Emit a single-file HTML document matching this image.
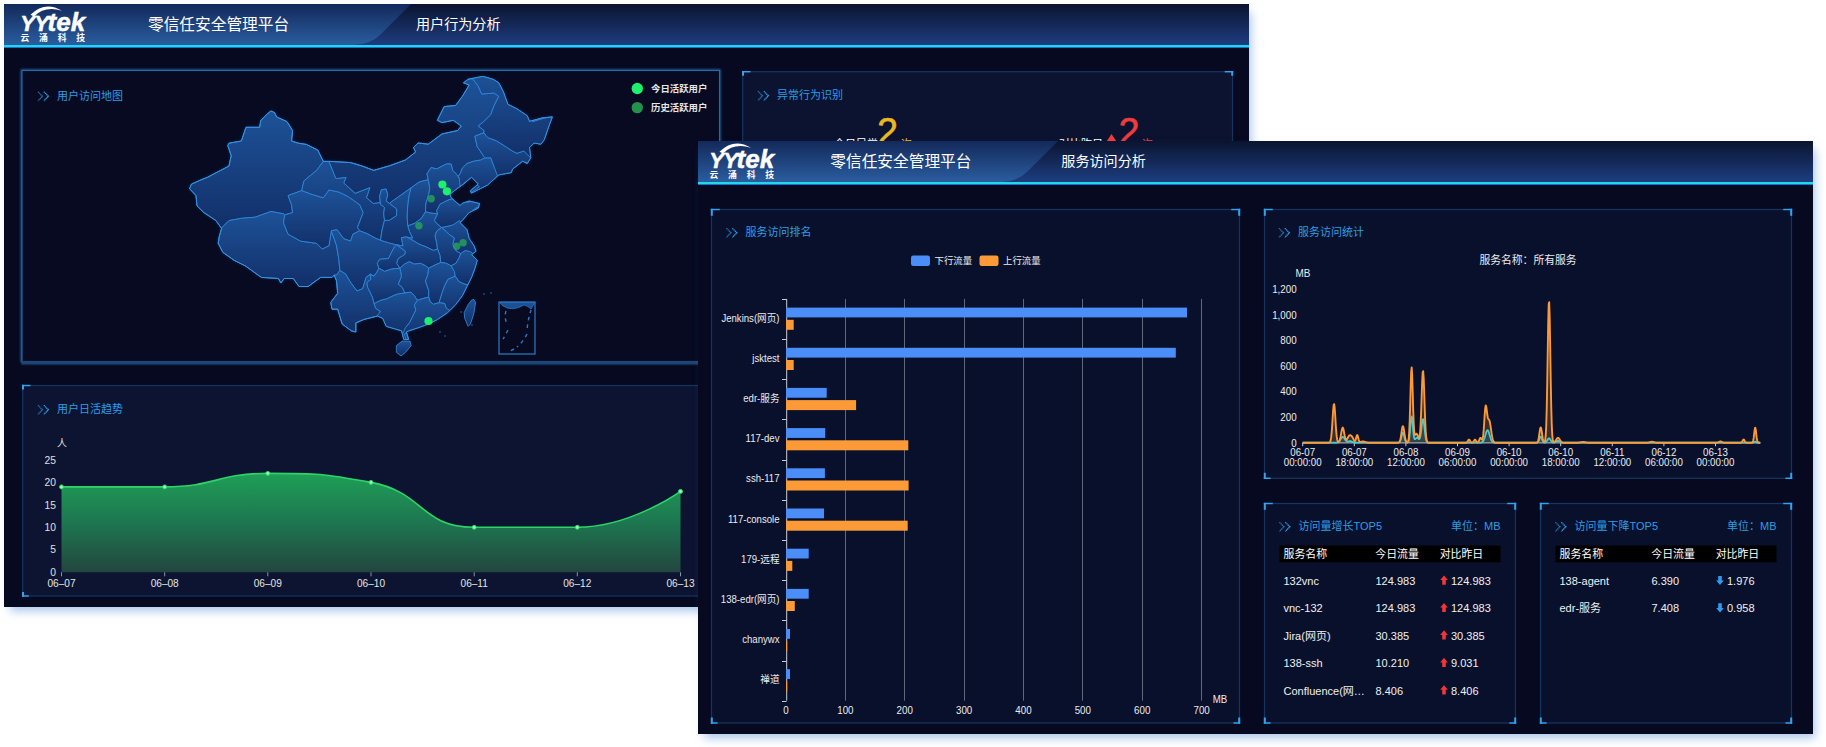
<!DOCTYPE html>
<html lang="zh-CN">
<head>
<meta charset="utf-8">
<title>零信任安全管理平台</title>
<style>
html,body{margin:0;padding:0;background:#fff;}
body{width:1826px;height:747px;overflow:hidden;position:relative;font-family:"Liberation Sans", "Noto Sans CJK SC", sans-serif;}
svg{position:absolute;left:0;top:0;display:block;font-family:"Liberation Sans", "Noto Sans CJK SC", sans-serif;}
.sh{position:absolute;background:#060920;}
#sa{left:4px;top:4px;width:1245px;height:603px;box-shadow:4px 6px 9px -2px rgba(90,145,215,.52);}
#sb{left:698px;top:141px;width:1115px;height:593px;box-shadow:4px 6px 9px -2px rgba(90,145,215,.52);}
</style>
</head>
<body>
<div class="sh" id="sa"></div>
<svg id="ga" width="1826" height="747" viewBox="0 0 1826 747">
<defs><clipPath id="ca"><rect x="4" y="4" width="1245" height="603"/></clipPath></defs>
<g clip-path="url(#ca)">
<rect x="4" y="4" width="1245" height="603" fill="#060920"/>
<defs><linearGradient id="ahg" x1="0" y1="0" x2="0" y2="1"><stop offset="0" stop-color="#0b1430"/><stop offset="1" stop-color="#1d3d80"/></linearGradient><linearGradient id="ahl" x1="0" y1="0" x2="0" y2="1"><stop offset="0" stop-color="#13295a"/><stop offset="1" stop-color="#2a5d9f"/></linearGradient></defs><rect x="4" y="4" width="1245" height="41" fill="url(#ahg)"/><path d="M4 4 H411 L381 34 Q371 44.5 353 45 H4 Z" fill="url(#ahl)"/><rect x="4" y="45" width="1245" height="3" fill="#1fd8ea"/><rect x="4" y="47" width="1245" height="1" fill="#1a6fd0"/><text y="31" font-weight="bold" font-style="italic" fill="#fff" stroke="#fff" stroke-width="0.5"><tspan x="20.3" font-size="22" style="text-transform:uppercase">y</tspan><tspan x="34.2" font-size="22" style="text-transform:uppercase">y</tspan><tspan x="47.6" font-size="26">tek</tspan></text><path d="M30.5 14.8 Q45 0.5 62 10.8 Q45 5.5 34 16.5 Z" fill="#fff"/><text x="20.5" y="41.3" font-size="8.8" font-weight="bold" fill="#fff" textLength="64.5" lengthAdjust="spacing">云 涌 科 技</text><text x="148" y="30" font-size="15.7" fill="#fff">零信任安全管理平台</text><text x="416" y="29" font-size="14.1" fill="#fff">用户行为分析</text>
<defs><filter id="pglow" x="-2%" y="-4%" width="104%" height="108%"><feGaussianBlur stdDeviation="1.3"/></filter></defs><rect x="22" y="70.5" width="697.5" height="291.0" fill="#070a21" stroke="#2a78c0" stroke-width="2.6" opacity="0.75" filter="url(#pglow)"/><rect x="22" y="70.5" width="697.5" height="291.0" fill="#070a21" stroke="#276aa8" stroke-width="1.1"/>
<defs><linearGradient id="mpb" x1="0" y1="0" x2="0" y2="1"><stop offset="0" stop-color="#1f4b7e"/><stop offset="0.55" stop-color="#1c426f"/><stop offset="1" stop-color="#0a1230"/></linearGradient></defs><rect x="21.5" y="361" width="698.5" height="4.6" fill="url(#mpb)"/>
<path d="M37.9 91.7 L42.5 96.3 L37.9 100.9" fill="none" stroke="#2f9be0" stroke-width="1.35" stroke-dasharray="1.3 0.5" opacity="0.7"/><path d="M43.8 91.7 L48.4 96.3 L43.8 100.9" fill="none" stroke="#2f9be0" stroke-width="1.35" stroke-dasharray="1.3 0.5" opacity="1"/><text x="57" y="99.5" font-size="11" fill="#2c9ee6">用户访问地图</text>
<defs><linearGradient id="mg" x1="0" y1="0" x2="0" y2="1"><stop offset="0" stop-color="#1d5298"/><stop offset="1" stop-color="#122f68"/></linearGradient><filter id="mglow" x="-5%" y="-5%" width="110%" height="110%"><feGaussianBlur stdDeviation="1.6"/></filter><clipPath id="mclip"><polygon points="271.0,111.0 274.4,112.5 276.7,117.0 287.0,121.6 292.6,130.7 291.5,141.0 298.3,143.2 306.3,144.4 317.7,150.0 323.3,161.4 330.2,161.4 350.6,162.6 362.0,166.0 373.7,170.4 389.6,165.8 405.5,160.0 415.7,152.0 413.5,147.6 418.0,143.0 428.3,144.2 442.0,134.0 457.8,130.5 461.3,126.0 453.3,120.3 442.0,122.6 437.4,120.3 444.2,106.6 455.6,105.5 462.4,96.4 469.2,85.0 463.5,82.8 468.0,79.3 482.9,76.4 493.1,79.3 498.8,82.8 503.4,91.9 507.9,104.4 517.0,108.9 527.2,115.7 529.5,121.4 542.0,118.0 552.3,116.9 548.9,126.0 544.3,139.6 540.9,144.2 534.1,143.0 529.5,147.6 530.7,157.8 527.2,163.5 522.7,161.2 512.4,169.2 511.3,172.6 498.8,174.9 487.4,185.1 480.6,188.5 471.5,193.1 470.4,190.8 478.3,184.0 471.5,177.2 463.5,184.0 455.6,189.7 449.9,194.2 451.0,197.7 460.1,205.6 462.4,203.3 469.2,201.1 478.3,203.3 479.5,203.4 478.3,208.0 469.2,212.5 460.1,222.8 466.9,229.6 469.2,238.7 473.8,245.5 476.0,251.2 471.5,254.6 477.2,260.3 474.9,268.3 471.5,277.4 466.9,286.5 462.4,295.6 455.6,304.7 447.6,312.6 437.4,319.5 428.3,324.0 419.2,327.4 408.9,330.8 406.3,332.0 408.6,339.4 403.8,339.4 401.6,330.8 394.1,328.6 386.2,326.3 382.8,318.3 377.5,316.0 363.8,319.5 355.8,322.9 355.8,332.0 351.3,330.8 342.2,324.0 337.7,309.2 332.0,309.2 330.8,302.4 337.7,293.3 336.5,280.8 334.2,275.1 332.0,277.4 320.6,277.4 308.1,286.5 299.0,286.5 293.3,278.5 284.2,278.5 280.8,283.0 278.5,278.5 261.4,277.4 245.5,266.0 234.1,260.3 222.8,252.3 218.2,243.2 219.3,236.4 221.6,228.4 215.9,220.5 203.9,212.6 197.0,205.8 196.0,195.6 189.6,188.7 191.4,184.2 201.6,179.6 207.3,177.4 229.0,166.0 231.2,155.7 227.8,145.5 229.0,143.2 241.4,141.0 246.0,127.3 259.6,127.3 260.8,120.5 267.6,113.6"/></clipPath></defs><polygon points="271.0,111.0 274.4,112.5 276.7,117.0 287.0,121.6 292.6,130.7 291.5,141.0 298.3,143.2 306.3,144.4 317.7,150.0 323.3,161.4 330.2,161.4 350.6,162.6 362.0,166.0 373.7,170.4 389.6,165.8 405.5,160.0 415.7,152.0 413.5,147.6 418.0,143.0 428.3,144.2 442.0,134.0 457.8,130.5 461.3,126.0 453.3,120.3 442.0,122.6 437.4,120.3 444.2,106.6 455.6,105.5 462.4,96.4 469.2,85.0 463.5,82.8 468.0,79.3 482.9,76.4 493.1,79.3 498.8,82.8 503.4,91.9 507.9,104.4 517.0,108.9 527.2,115.7 529.5,121.4 542.0,118.0 552.3,116.9 548.9,126.0 544.3,139.6 540.9,144.2 534.1,143.0 529.5,147.6 530.7,157.8 527.2,163.5 522.7,161.2 512.4,169.2 511.3,172.6 498.8,174.9 487.4,185.1 480.6,188.5 471.5,193.1 470.4,190.8 478.3,184.0 471.5,177.2 463.5,184.0 455.6,189.7 449.9,194.2 451.0,197.7 460.1,205.6 462.4,203.3 469.2,201.1 478.3,203.3 479.5,203.4 478.3,208.0 469.2,212.5 460.1,222.8 466.9,229.6 469.2,238.7 473.8,245.5 476.0,251.2 471.5,254.6 477.2,260.3 474.9,268.3 471.5,277.4 466.9,286.5 462.4,295.6 455.6,304.7 447.6,312.6 437.4,319.5 428.3,324.0 419.2,327.4 408.9,330.8 406.3,332.0 408.6,339.4 403.8,339.4 401.6,330.8 394.1,328.6 386.2,326.3 382.8,318.3 377.5,316.0 363.8,319.5 355.8,322.9 355.8,332.0 351.3,330.8 342.2,324.0 337.7,309.2 332.0,309.2 330.8,302.4 337.7,293.3 336.5,280.8 334.2,275.1 332.0,277.4 320.6,277.4 308.1,286.5 299.0,286.5 293.3,278.5 284.2,278.5 280.8,283.0 278.5,278.5 261.4,277.4 245.5,266.0 234.1,260.3 222.8,252.3 218.2,243.2 219.3,236.4 221.6,228.4 215.9,220.5 203.9,212.6 197.0,205.8 196.0,195.6 189.6,188.7 191.4,184.2 201.6,179.6 207.3,177.4 229.0,166.0 231.2,155.7 227.8,145.5 229.0,143.2 241.4,141.0 246.0,127.3 259.6,127.3 260.8,120.5 267.6,113.6" fill="#1b4a8c" stroke="#2a7acc" stroke-width="1.2" opacity="0.3" filter="url(#mglow)"/><polygon points="271.0,111.0 274.4,112.5 276.7,117.0 287.0,121.6 292.6,130.7 291.5,141.0 298.3,143.2 306.3,144.4 317.7,150.0 323.3,161.4 330.2,161.4 350.6,162.6 362.0,166.0 373.7,170.4 389.6,165.8 405.5,160.0 415.7,152.0 413.5,147.6 418.0,143.0 428.3,144.2 442.0,134.0 457.8,130.5 461.3,126.0 453.3,120.3 442.0,122.6 437.4,120.3 444.2,106.6 455.6,105.5 462.4,96.4 469.2,85.0 463.5,82.8 468.0,79.3 482.9,76.4 493.1,79.3 498.8,82.8 503.4,91.9 507.9,104.4 517.0,108.9 527.2,115.7 529.5,121.4 542.0,118.0 552.3,116.9 548.9,126.0 544.3,139.6 540.9,144.2 534.1,143.0 529.5,147.6 530.7,157.8 527.2,163.5 522.7,161.2 512.4,169.2 511.3,172.6 498.8,174.9 487.4,185.1 480.6,188.5 471.5,193.1 470.4,190.8 478.3,184.0 471.5,177.2 463.5,184.0 455.6,189.7 449.9,194.2 451.0,197.7 460.1,205.6 462.4,203.3 469.2,201.1 478.3,203.3 479.5,203.4 478.3,208.0 469.2,212.5 460.1,222.8 466.9,229.6 469.2,238.7 473.8,245.5 476.0,251.2 471.5,254.6 477.2,260.3 474.9,268.3 471.5,277.4 466.9,286.5 462.4,295.6 455.6,304.7 447.6,312.6 437.4,319.5 428.3,324.0 419.2,327.4 408.9,330.8 406.3,332.0 408.6,339.4 403.8,339.4 401.6,330.8 394.1,328.6 386.2,326.3 382.8,318.3 377.5,316.0 363.8,319.5 355.8,322.9 355.8,332.0 351.3,330.8 342.2,324.0 337.7,309.2 332.0,309.2 330.8,302.4 337.7,293.3 336.5,280.8 334.2,275.1 332.0,277.4 320.6,277.4 308.1,286.5 299.0,286.5 293.3,278.5 284.2,278.5 280.8,283.0 278.5,278.5 261.4,277.4 245.5,266.0 234.1,260.3 222.8,252.3 218.2,243.2 219.3,236.4 221.6,228.4 215.9,220.5 203.9,212.6 197.0,205.8 196.0,195.6 189.6,188.7 191.4,184.2 201.6,179.6 207.3,177.4 229.0,166.0 231.2,155.7 227.8,145.5 229.0,143.2 241.4,141.0 246.0,127.3 259.6,127.3 260.8,120.5 267.6,113.6" fill="#194584" stroke="#2f88d8" stroke-width="1" stroke-linejoin="round"/><polygon points="396.4,345.6 402.1,341.1 410.0,341.1 411.2,345.6 405.5,352.4 401.0,355.9 396.4,352.4" fill="url(#mg)" stroke="#2f88d8" stroke-width="0.85" stroke-linejoin="round"/><polygon points="473.8,299.4 475.6,302.4 473.8,313.8 470.4,324.0 468.1,326.3 464.7,318.3 464.2,312.6 468.1,304.7 471.5,300.1" fill="url(#mg)" stroke="#2f88d8" stroke-width="0.85" stroke-linejoin="round"/><g clip-path="url(#mclip)"><polygon points="221.6,228.4 215.9,220.5 203.9,212.6 197.0,205.8 196.0,195.6 189.6,188.7 191.4,184.2 201.6,179.6 207.3,177.4 229.0,166.0 231.2,155.7 227.8,145.5 229.0,143.2 241.4,141.0 246.0,127.3 259.6,127.3 260.8,120.5 267.6,113.6 271.0,111.0 274.4,112.5 276.7,117.0 287.0,121.6 292.6,130.7 291.5,141.0 298.3,143.2 306.3,144.4 317.7,150.0 323.3,161.4 323.3,161.4 316.5,170.5 304.0,180.8 301.7,190.6 301.7,190.6 288.1,195.6 291.5,204.7 292.6,212.6 284.7,214.9 284.7,214.9 283.5,213.8 271.0,211.5 255.1,217.2 241.4,218.3 228.9,220.6 221.0,228.6" fill="url(#mg)" stroke="#2f88d8" stroke-width="0.9" stroke-linejoin="round"/><polygon points="221.0,228.6 228.9,220.6 241.4,218.3 255.1,217.2 271.0,211.5 283.5,213.8 284.7,214.9 284.7,214.9 283.5,222.9 288.1,234.2 300.6,241.1 316.5,243.3 322.2,249.0 329.0,245.6 331.3,230.8 331.3,230.8 336.5,245.5 338.8,259.2 339.9,270.5 336.5,275.1 334.2,275.1 332.0,277.4 320.6,277.4 308.1,286.5 299.0,286.5 293.3,278.5 284.2,278.5 280.8,283.0 278.5,278.5 261.4,277.4 245.5,266.0 234.1,260.3 222.8,252.3 218.2,243.2 219.3,236.4 221.6,228.4" fill="url(#mg)" stroke="#2f88d8" stroke-width="0.9" stroke-linejoin="round"/><polygon points="284.7,214.9 292.6,212.6 291.5,204.7 288.1,195.6 301.7,190.6 301.7,190.6 312.0,194.4 323.3,197.8 329.0,189.9 339.3,192.2 348.4,196.7 359.7,204.7 363.2,212.6 357.5,227.4 359.7,230.8 359.7,230.8 352.9,234.2 350.6,241.1 343.8,238.8 337.0,229.7 331.3,230.8 329.0,245.6 322.2,249.0 316.5,243.3 300.6,241.1 288.1,234.2 283.5,222.9 284.7,214.9" fill="url(#mg)" stroke="#2f88d8" stroke-width="0.9" stroke-linejoin="round"/><polygon points="301.7,190.6 304.0,180.8 316.5,170.5 323.3,161.4 329.0,161.4 335.9,178.5 346.1,177.4 343.8,183.0 355.2,193.3 370.0,187.6 366.6,197.8 373.4,203.5 380.0,202.4 380.5,204.2 384.5,207.4 383.7,213.8 384.5,220.3 382.1,229.9 380.5,240.3 375.0,238.0 368.0,234.0 359.7,230.8 359.7,230.8 357.5,227.4 363.2,212.6 359.7,204.7 348.4,196.7 339.3,192.2 329.0,189.9 323.3,197.8 312.0,194.4 301.7,190.6" fill="url(#mg)" stroke="#2f88d8" stroke-width="0.9" stroke-linejoin="round"/><polygon points="323.3,161.4 330.2,161.4 350.6,162.6 362.0,166.0 373.7,170.4 389.6,165.8 405.5,160.0 415.7,152.0 413.5,147.6 418.0,143.0 428.3,144.2 442.0,134.0 457.8,130.5 461.3,126.0 453.3,120.3 442.0,122.6 437.4,120.3 444.2,106.6 455.6,105.5 462.4,96.4 469.2,85.0 463.5,82.8 468.0,79.3 472.6,78.6 478.3,86.2 481.7,94.1 494.2,93.0 498.8,96.4 494.2,105.5 490.8,114.6 484.0,121.4 478.3,126.0 484.0,130.5 484.0,132.8 474.9,136.2 477.2,146.5 484.0,156.7 485.1,157.8 480.6,160.1 473.8,161.2 467.0,163.5 462.4,168.1 460.1,173.8 457.8,177.2 456.8,174.5 452.7,170.5 451.1,164.0 446.3,164.0 436.7,168.9 431.0,167.6 427.0,173.7 428.2,179.7 419.0,182.1 411.0,187.9 398.2,197.0 389.3,203.4 386.1,201.0 387.7,194.6 386.1,189.0 381.3,189.8 379.7,196.2 380.5,204.2 380.0,202.4 373.4,203.5 366.6,197.8 370.0,187.6 355.2,193.3 343.8,183.0 346.1,177.4 335.9,178.5 329.0,161.4 323.3,161.4" fill="url(#mg)" stroke="#2f88d8" stroke-width="0.9" stroke-linejoin="round"/><polygon points="331.3,230.8 337.0,229.7 343.8,238.8 350.6,241.1 352.9,234.2 359.7,230.8 368.0,234.0 375.0,238.0 380.5,240.3 388.5,242.7 395.0,244.4 396.6,244.9 394.1,247.3 391.7,252.1 388.5,258.5 379.7,259.3 377.3,263.3 378.9,268.2 377.3,271.4 374.1,276.2 370.6,274.0 370.6,274.0 366.1,277.4 362.7,288.7 357.0,291.0 350.2,281.9 345.6,274.0 339.9,270.5 339.9,270.5 338.8,259.2 336.5,245.5 331.3,230.8" fill="url(#mg)" stroke="#2f88d8" stroke-width="0.9" stroke-linejoin="round"/><polygon points="339.9,270.5 345.6,274.0 350.2,281.9 357.0,291.0 362.7,288.7 366.1,277.4 370.6,274.0 370.1,274.6 370.9,279.4 366.9,282.6 367.7,287.4 372.5,297.1 374.1,303.5 375.7,308.3 380.5,311.5 378.9,316.3 377.5,316.0 363.8,319.5 355.8,322.9 355.8,332.0 351.3,330.8 342.2,324.0 337.7,309.2 332.0,309.2 330.8,302.4 337.7,293.3 336.5,280.8 334.2,275.1 336.5,275.1" fill="url(#mg)" stroke="#2f88d8" stroke-width="0.9" stroke-linejoin="round"/><polygon points="411.0,187.9 419.0,182.1 428.2,179.7 429.8,188.2 428.7,194.6 425.8,204.2 425.5,211.8 421.4,218.3 415.0,223.2 407.8,226.0 407.0,217.0 407.8,204.2 409.1,194.6" fill="url(#mg)" stroke="#2f88d8" stroke-width="0.9" stroke-linejoin="round"/><polygon points="428.2,179.7 427.0,173.7 431.0,167.6 436.7,168.9 446.3,164.0 451.1,164.0 452.7,170.5 456.8,174.5 459.2,177.7 465.3,183.3 457.4,190.0 452.9,195.4 455.2,197.9 456.0,197.8 448.0,200.2 440.0,204.2 436.7,210.6 437.5,213.8 430.3,213.0 425.5,211.8 425.8,204.2 428.7,194.6 429.8,188.2" fill="url(#mg)" stroke="#2f88d8" stroke-width="0.9" stroke-linejoin="round"/><polygon points="456.0,197.8 462.2,199.2 468.0,202.4 474.5,199.3 481.2,203.2 480.5,205.9 474.9,208.4 470.2,214.2 464.4,222.5 460.3,226.3 452.7,225.1 446.3,226.7 441.5,227.5 436.7,223.5 434.3,220.3 437.5,213.8 436.7,210.6 440.0,204.2 448.0,200.2" fill="url(#mg)" stroke="#2f88d8" stroke-width="0.9" stroke-linejoin="round"/><polygon points="407.8,226.0 415.0,223.2 421.4,218.3 425.5,211.8 430.3,213.0 437.5,213.8 434.3,220.3 436.7,223.5 441.5,227.5 436.7,231.2 435.1,236.0 436.7,242.5 437.5,248.9 433.5,250.5 427.1,247.3 419.0,244.1 411.0,239.3 412.6,237.9 409.4,231.5" fill="url(#mg)" stroke="#2f88d8" stroke-width="0.9" stroke-linejoin="round"/><polygon points="441.5,227.5 446.3,226.7 452.7,225.1 459.4,220.5 463.3,223.9 469.9,233.4 473.3,243.6 476.1,250.9 472.4,254.6 465.6,250.5 462.4,252.4 460.8,253.7 456.0,250.8 452.7,244.4 454.4,238.0 449.5,234.8 446.3,231.6" fill="url(#mg)" stroke="#2f88d8" stroke-width="0.9" stroke-linejoin="round"/><polygon points="441.5,227.5 446.3,231.6 449.5,234.8 454.4,238.0 452.7,244.4 456.0,250.8 460.8,253.7 459.2,257.7 456.0,263.3 451.1,265.8 446.3,263.3 440.7,262.5 439.9,255.3 437.5,248.9 436.7,242.5 435.1,236.0 436.7,231.2" fill="url(#mg)" stroke="#2f88d8" stroke-width="0.9" stroke-linejoin="round"/><polygon points="411.0,187.9 409.1,194.6 407.8,204.2 407.0,217.0 407.8,226.0 409.4,231.5 412.6,237.9 406.2,236.9 401.4,237.7 403.0,246.0 395.0,244.4 388.5,242.7 380.5,240.3 382.1,229.9 384.5,220.3 389.3,220.3 396.6,215.5 396.6,209.0 389.3,203.4 398.2,197.0" fill="url(#mg)" stroke="#2f88d8" stroke-width="0.9" stroke-linejoin="round"/><polygon points="381.3,189.8 386.1,189.0 387.7,194.6 386.1,201.0 389.3,203.4 396.6,209.0 396.6,215.5 389.3,220.3 384.5,220.3 383.7,213.8 384.5,207.4 380.5,204.2 379.7,196.2" fill="url(#mg)" stroke="#2f88d8" stroke-width="0.9" stroke-linejoin="round"/><polygon points="401.4,237.7 406.2,236.9 411.0,239.3 419.0,244.1 427.1,247.3 433.5,250.5 437.5,248.9 439.9,255.3 440.7,262.5 435.1,265.0 428.7,268.2 425.5,265.8 420.6,263.3 414.2,264.1 409.4,261.7 404.6,264.1 399.8,268.2 396.6,263.3 398.2,258.5 404.6,254.5 405.4,251.3 396.6,244.9 403.0,246.0" fill="url(#mg)" stroke="#2f88d8" stroke-width="0.9" stroke-linejoin="round"/><polygon points="399.8,268.2 404.6,264.1 409.4,261.7 414.2,264.1 420.6,263.3 425.5,265.8 428.7,268.2 427.9,274.6 425.5,281.0 428.7,290.6 428.7,297.1 422.2,298.7 417.4,300.3 414.2,295.5 411.0,292.2 404.6,293.0 402.2,287.4 398.2,284.2 401.4,276.2 400.6,271.4" fill="url(#mg)" stroke="#2f88d8" stroke-width="0.9" stroke-linejoin="round"/><polygon points="428.7,268.2 435.1,265.0 440.7,262.5 446.3,263.3 451.1,265.8 454.4,271.4 455.2,276.2 447.9,279.4 444.7,285.8 442.3,292.2 439.1,302.7 433.5,304.3 430.3,301.9 428.7,297.1 428.7,290.6 425.5,281.0 427.9,274.6" fill="url(#mg)" stroke="#2f88d8" stroke-width="0.9" stroke-linejoin="round"/><polygon points="460.8,253.7 462.4,252.4 465.6,250.5 470.9,251.8 476.9,257.7 479.7,262.6 476.5,268.8 474.1,276.8 467.8,284.7 464.8,284.2 459.2,281.8 455.2,276.2 454.4,271.4 451.1,265.8 456.0,263.3 459.2,257.7" fill="url(#mg)" stroke="#2f88d8" stroke-width="0.9" stroke-linejoin="round"/><polygon points="455.2,276.2 459.2,281.8 464.8,284.2 469.6,285.3 465.3,296.3 456.5,307.6 447.2,314.4 446.3,308.3 444.7,303.5 439.1,302.7 442.3,292.2 444.7,285.8 447.9,279.4" fill="url(#mg)" stroke="#2f88d8" stroke-width="0.9" stroke-linejoin="round"/><polygon points="417.4,300.3 422.2,298.7 428.7,297.1 430.3,301.9 433.5,304.3 439.1,302.7 444.7,303.5 446.3,308.3 450.9,311.0 450.6,312.2 440.3,320.2 429.9,326.5 418.3,330.2 406.8,333.0 404.1,334.1 407.0,342.0 401.9,341.7 399.1,332.5 405.4,327.6 409.4,322.8 412.6,316.3 415.8,309.9 414.2,305.1" fill="url(#mg)" stroke="#2f88d8" stroke-width="0.9" stroke-linejoin="round"/><polygon points="374.1,303.5 380.5,300.3 386.9,298.7 393.3,295.5 398.2,293.8 404.6,293.0 411.0,292.2 414.2,295.5 417.4,300.3 414.2,305.1 415.8,309.9 412.6,316.3 409.4,322.8 405.4,327.6 402.8,333.7 393.6,331.6 384.6,328.8 380.3,319.9 376.1,317.4 380.5,311.5 375.7,308.3" fill="url(#mg)" stroke="#2f88d8" stroke-width="0.9" stroke-linejoin="round"/><polygon points="396.6,244.9 405.4,251.3 404.6,254.5 398.2,258.5 396.6,263.3 399.8,268.2 391.7,269.0 384.5,271.4 378.9,268.2 377.3,263.3 379.7,259.3 388.5,258.5 391.7,252.1 394.1,247.3" fill="url(#mg)" stroke="#2f88d8" stroke-width="0.9" stroke-linejoin="round"/><polygon points="378.9,268.2 384.5,271.4 391.7,269.0 399.8,268.2 400.6,271.4 401.4,276.2 398.2,284.2 402.2,287.4 404.6,293.0 398.2,293.8 393.3,295.5 386.9,298.7 380.5,300.3 374.1,303.5 372.5,297.1 367.7,287.4 366.9,282.6 370.9,279.4 370.1,274.6 374.1,276.2 377.3,271.4" fill="url(#mg)" stroke="#2f88d8" stroke-width="0.9" stroke-linejoin="round"/><polygon points="460.0,185.8 461.2,185.9 469.1,179.0 479.5,186.8 469.6,193.7 471.0,196.1 481.8,191.2 489.8,186.9 501.8,174.9 494.2,167.0 490.8,157.8 485.1,157.8 480.6,160.1 473.8,161.2 467.0,163.5 462.4,168.1 460.1,173.8 457.8,177.2 459.2,177.7" fill="url(#mg)" stroke="#2f88d8" stroke-width="0.9" stroke-linejoin="round"/><polygon points="474.9,136.2 484.0,132.8 487.4,137.4 496.5,140.8 505.6,146.5 512.4,151.0 517.0,153.3 523.8,151.0 532.5,155.7 533.7,158.2 530.0,164.6 525.5,162.2 514.0,171.7 512.5,175.3 498.2,177.8 494.2,167.0 490.8,157.8 485.1,157.8 484.0,156.7 477.2,146.5" fill="url(#mg)" stroke="#2f88d8" stroke-width="0.9" stroke-linejoin="round"/><polygon points="470.6,76.3 481.4,73.8 492.0,76.5 498.1,79.9 502.9,88.9 507.9,101.4 519.0,106.6 530.2,115.2 532.5,121.7 545.0,117.9 555.3,116.8 551.9,126.5 546.9,141.1 543.3,146.0 536.3,145.0 531.3,150.0 531.0,158.2 523.8,151.0 517.0,153.3 512.4,151.0 505.6,146.5 496.5,140.8 487.4,137.4 484.0,132.8 484.0,130.5 478.3,126.0 484.0,121.4 490.8,114.6 494.2,105.5 498.8,96.4 494.2,93.0 481.7,94.1 478.3,86.2" fill="url(#mg)" stroke="#2f88d8" stroke-width="0.9" stroke-linejoin="round"/></g><polygon points="271.0,111.0 274.4,112.5 276.7,117.0 287.0,121.6 292.6,130.7 291.5,141.0 298.3,143.2 306.3,144.4 317.7,150.0 323.3,161.4 330.2,161.4 350.6,162.6 362.0,166.0 373.7,170.4 389.6,165.8 405.5,160.0 415.7,152.0 413.5,147.6 418.0,143.0 428.3,144.2 442.0,134.0 457.8,130.5 461.3,126.0 453.3,120.3 442.0,122.6 437.4,120.3 444.2,106.6 455.6,105.5 462.4,96.4 469.2,85.0 463.5,82.8 468.0,79.3 482.9,76.4 493.1,79.3 498.8,82.8 503.4,91.9 507.9,104.4 517.0,108.9 527.2,115.7 529.5,121.4 542.0,118.0 552.3,116.9 548.9,126.0 544.3,139.6 540.9,144.2 534.1,143.0 529.5,147.6 530.7,157.8 527.2,163.5 522.7,161.2 512.4,169.2 511.3,172.6 498.8,174.9 487.4,185.1 480.6,188.5 471.5,193.1 470.4,190.8 478.3,184.0 471.5,177.2 463.5,184.0 455.6,189.7 449.9,194.2 451.0,197.7 460.1,205.6 462.4,203.3 469.2,201.1 478.3,203.3 479.5,203.4 478.3,208.0 469.2,212.5 460.1,222.8 466.9,229.6 469.2,238.7 473.8,245.5 476.0,251.2 471.5,254.6 477.2,260.3 474.9,268.3 471.5,277.4 466.9,286.5 462.4,295.6 455.6,304.7 447.6,312.6 437.4,319.5 428.3,324.0 419.2,327.4 408.9,330.8 406.3,332.0 408.6,339.4 403.8,339.4 401.6,330.8 394.1,328.6 386.2,326.3 382.8,318.3 377.5,316.0 363.8,319.5 355.8,322.9 355.8,332.0 351.3,330.8 342.2,324.0 337.7,309.2 332.0,309.2 330.8,302.4 337.7,293.3 336.5,280.8 334.2,275.1 332.0,277.4 320.6,277.4 308.1,286.5 299.0,286.5 293.3,278.5 284.2,278.5 280.8,283.0 278.5,278.5 261.4,277.4 245.5,266.0 234.1,260.3 222.8,252.3 218.2,243.2 219.3,236.4 221.6,228.4 215.9,220.5 203.9,212.6 197.0,205.8 196.0,195.6 189.6,188.7 191.4,184.2 201.6,179.6 207.3,177.4 229.0,166.0 231.2,155.7 227.8,145.5 229.0,143.2 241.4,141.0 246.0,127.3 259.6,127.3 260.8,120.5 267.6,113.6" fill="none" stroke="#3692e2" stroke-width="1" stroke-linejoin="round"/><rect x="499" y="302" width="36" height="52" fill="#070a21" stroke="#2b7cc8" stroke-width="1.2"/><path d="M499.5 302.5 H535 L531 309 Q528 306 524 305 Q512 312 503 306 Z" fill="#1d4f95" stroke="#2f86d6" stroke-width="0.6"/><path d="M506 311 q-2 6 1 13 M508 330 q-3 6 -5 9 M531 310 q-3 9 -4 20 M527 334 q-4 8 -10 13 M514 349 l-4 2" fill="none" stroke="#2a78c6" stroke-width="1.4" stroke-dasharray="3.5 4"/><circle cx="484" cy="294" r="0.7" fill="#2f86d6"/><circle cx="491" cy="293" r="0.7" fill="#2f86d6"/><circle cx="461" cy="312" r="0.7" fill="#2f86d6"/><circle cx="440" cy="332" r="0.7" fill="#2f86d6"/><circle cx="445" cy="336" r="0.7" fill="#2f86d6"/><circle cx="472" cy="325" r="0.7" fill="#2f86d6"/><circle cx="431.2" cy="198.8" r="3.7" fill="#27a45a" fill-opacity="0.8"/><circle cx="418.9" cy="225.7" r="3.7" fill="#27a45a" fill-opacity="0.8"/><circle cx="456.7" cy="246.2" r="3.7" fill="#27a45a" fill-opacity="0.8"/><circle cx="463.1" cy="242.8" r="3.7" fill="#27a45a" fill-opacity="0.8"/><circle cx="442.4" cy="184.5" r="4.1" fill="#1df06c"/><circle cx="446.9" cy="191.3" r="4.1" fill="#1df06c"/><circle cx="428.5" cy="321" r="4.1" fill="#1df06c"/>
<circle cx="637.3" cy="88.5" r="5.7" fill="#1df06c"/><circle cx="637.3" cy="107.6" r="5.7" fill="#23914c"/>
<text x="651" y="92" font-size="9.4" font-weight="bold" fill="#e6e6e6">今日活跃用户</text>
<text x="651" y="111" font-size="9.4" font-weight="bold" fill="#e6e6e6">历史活跃用户</text>
<rect x="22.7" y="385.5" width="737.3" height="210.5" fill="#0c1431" stroke="#17345f" stroke-width="1.25"/><rect x="22.0" y="384.8" width="8.5" height="1.4" fill="#31a4ee"/><rect x="22.0" y="384.8" width="2" height="4.7" fill="#31a4ee"/><rect x="22.0" y="595.3" width="6.8" height="1.4" fill="#31a4ee"/><rect x="22.0" y="592.0" width="2" height="4.7" fill="#31a4ee"/>
<path d="M37.9 405.2 L42.5 409.8 L37.9 414.4" fill="none" stroke="#2f9be0" stroke-width="1.35" stroke-dasharray="1.3 0.5" opacity="0.7"/><path d="M43.8 405.2 L48.4 409.8 L43.8 414.4" fill="none" stroke="#2f9be0" stroke-width="1.35" stroke-dasharray="1.3 0.5" opacity="1"/><text x="57" y="413" font-size="11" fill="#2c9ee6">用户日活趋势</text>
<defs><linearGradient id="tg" x1="0" y1="0" x2="0" y2="1"><stop offset="0" stop-color="#1f9e56"/><stop offset="0.5" stop-color="#1d7650"/><stop offset="1" stop-color="#23463f"/></linearGradient></defs><path d="M61.5 486.9 C61.5 486.9 113.3 486.9 164.7 486.9 C216.5 486.9 216.1 473.4 267.8 473.4 C319.3 473.4 321.6 473.4 371.0 482.4 C424.7 492.2 420.3 527.3 474.2 527.3 C523.5 527.3 527.2 527.3 577.3 527.3 C630.4 527.3 680.5 491.4 680.5 491.4 L680.5 572.3 L61.5 572.3 Z" fill="url(#tg)"/><path d="M61.5 486.9 C61.5 486.9 113.3 486.9 164.7 486.9 C216.5 486.9 216.1 473.4 267.8 473.4 C319.3 473.4 321.6 473.4 371.0 482.4 C424.7 492.2 420.3 527.3 474.2 527.3 C523.5 527.3 527.2 527.3 577.3 527.3 C630.4 527.3 680.5 491.4 680.5 491.4" fill="none" stroke="#2bd668" stroke-width="1.6"/><circle cx="61.5" cy="486.9" r="2" fill="#9af5b8" stroke="#2bd668" stroke-width="1"/><circle cx="164.7" cy="486.9" r="2" fill="#9af5b8" stroke="#2bd668" stroke-width="1"/><circle cx="267.8" cy="473.4" r="2" fill="#9af5b8" stroke="#2bd668" stroke-width="1"/><circle cx="371.0" cy="482.4" r="2" fill="#9af5b8" stroke="#2bd668" stroke-width="1"/><circle cx="474.2" cy="527.3" r="2" fill="#9af5b8" stroke="#2bd668" stroke-width="1"/><circle cx="577.3" cy="527.3" r="2" fill="#9af5b8" stroke="#2bd668" stroke-width="1"/><circle cx="680.5" cy="491.4" r="2" fill="#9af5b8" stroke="#2bd668" stroke-width="1"/><text x="57" y="447" font-size="10" fill="#e0e0e0">人</text><text x="56" y="575.9" font-size="10.3" fill="#e0e0e0" text-anchor="end">0</text><text x="56" y="553.4" font-size="10.3" fill="#e0e0e0" text-anchor="end">5</text><text x="56" y="530.9" font-size="10.3" fill="#e0e0e0" text-anchor="end">10</text><text x="56" y="508.5" font-size="10.3" fill="#e0e0e0" text-anchor="end">15</text><text x="56" y="486.0" font-size="10.3" fill="#e0e0e0" text-anchor="end">20</text><text x="56" y="463.5" font-size="10.3" fill="#e0e0e0" text-anchor="end">25</text><line x1="61.5" y1="572.3" x2="61.5" y2="576.3" stroke="#8a93a8" stroke-width="1"/><text x="61.5" y="587" font-size="10.1" fill="#e4e4e4" text-anchor="middle">06–07</text><line x1="164.7" y1="572.3" x2="164.7" y2="576.3" stroke="#8a93a8" stroke-width="1"/><text x="164.7" y="587" font-size="10.1" fill="#e4e4e4" text-anchor="middle">06–08</text><line x1="267.8" y1="572.3" x2="267.8" y2="576.3" stroke="#8a93a8" stroke-width="1"/><text x="267.8" y="587" font-size="10.1" fill="#e4e4e4" text-anchor="middle">06–09</text><line x1="371.0" y1="572.3" x2="371.0" y2="576.3" stroke="#8a93a8" stroke-width="1"/><text x="371.0" y="587" font-size="10.1" fill="#e4e4e4" text-anchor="middle">06–10</text><line x1="474.2" y1="572.3" x2="474.2" y2="576.3" stroke="#8a93a8" stroke-width="1"/><text x="474.2" y="587" font-size="10.1" fill="#e4e4e4" text-anchor="middle">06–11</text><line x1="577.3" y1="572.3" x2="577.3" y2="576.3" stroke="#8a93a8" stroke-width="1"/><text x="577.3" y="587" font-size="10.1" fill="#e4e4e4" text-anchor="middle">06–12</text><line x1="680.5" y1="572.3" x2="680.5" y2="576.3" stroke="#8a93a8" stroke-width="1"/><text x="680.5" y="587" font-size="10.1" fill="#e4e4e4" text-anchor="middle">06–13</text>
<rect x="742.7" y="71.7" width="489.79999999999995" height="328.3" fill="#0b1330" stroke="#17345f" stroke-width="1.25"/><rect x="742.0" y="71.0" width="8.5" height="1.4" fill="#31a4ee"/><rect x="742.0" y="71.0" width="2" height="4.7" fill="#31a4ee"/><rect x="1224.7" y="71.0" width="8.5" height="1.4" fill="#31a4ee"/><rect x="1231.2" y="71.0" width="2" height="4.7" fill="#31a4ee"/>
<path d="M757.9 91.2 L762.5 95.8 L757.9 100.4" fill="none" stroke="#2f9be0" stroke-width="1.35" stroke-dasharray="1.3 0.5" opacity="0.7"/><path d="M763.8 91.2 L768.4 95.8 L763.8 100.4" fill="none" stroke="#2f9be0" stroke-width="1.35" stroke-dasharray="1.3 0.5" opacity="1"/><text x="777" y="99" font-size="11" fill="#2c9ee6">异常行为识别</text>
<text x="834" y="148" font-size="11" fill="#fff">今日异常</text>
<text x="877" y="145" font-size="38" fill="#e9b822" stroke="#e9b822" stroke-width="0.6">2</text>
<text x="901" y="148" font-size="11" fill="#e9b822">次</text>
<text x="1059" y="148" font-size="11" fill="#fff">对比昨日</text>
<path d="M1111.5 134 l5 7.5 h-3 v6 h-4 v-6 h-3 z" fill="#f23b3b"/>
<text x="1118.5" y="145" font-size="38" fill="#f23b3b" stroke="#f23b3b" stroke-width="0.6">2</text>
<text x="1142" y="148" font-size="11" fill="#f23b3b">次</text>
</g>
</svg>
<div class="sh" id="sb"></div>
<svg id="gb" width="1826" height="747" viewBox="0 0 1826 747">
<defs><clipPath id="cb"><rect x="698" y="141" width="1115" height="593"/></clipPath></defs>
<g clip-path="url(#cb)">
<rect x="698" y="141" width="1115" height="593" fill="#060920"/>
<defs><linearGradient id="bhg" x1="0" y1="0" x2="0" y2="1"><stop offset="0" stop-color="#0b1430"/><stop offset="1" stop-color="#1d3d80"/></linearGradient><linearGradient id="bhl" x1="0" y1="0" x2="0" y2="1"><stop offset="0" stop-color="#13295a"/><stop offset="1" stop-color="#2a5d9f"/></linearGradient></defs><rect x="698" y="141" width="1115" height="41" fill="url(#bhg)"/><path d="M698 141 H1058 L1028 171 Q1018 181.5 1000 182 H698 Z" fill="url(#bhl)"/><rect x="698" y="182" width="1115" height="3" fill="#1fd8ea"/><rect x="698" y="184" width="1115" height="1" fill="#1a6fd0"/><text y="168" font-weight="bold" font-style="italic" fill="#fff" stroke="#fff" stroke-width="0.5"><tspan x="709.3" font-size="22" style="text-transform:uppercase">y</tspan><tspan x="723.2" font-size="22" style="text-transform:uppercase">y</tspan><tspan x="736.6" font-size="26">tek</tspan></text><path d="M719.5 151.8 Q734 137.5 751 147.8 Q734 142.5 723 153.5 Z" fill="#fff"/><text x="709.5" y="178.3" font-size="8.8" font-weight="bold" fill="#fff" textLength="64.5" lengthAdjust="spacing">云 涌 科 技</text><text x="830.3" y="167" font-size="15.7" fill="#fff">零信任安全管理平台</text><text x="1061.3" y="166" font-size="14.1" fill="#fff">服务访问分析</text>
<rect x="711.5" y="209.5" width="528.0" height="513.5" fill="#09102c" stroke="#17345f" stroke-width="1.25"/><rect x="710.8" y="208.8" width="9" height="1.4" fill="#31a4ee"/><rect x="710.8" y="208.8" width="2" height="7" fill="#31a4ee"/><rect x="1231.2" y="208.8" width="9" height="1.4" fill="#31a4ee"/><rect x="1238.2" y="208.8" width="2" height="7" fill="#31a4ee"/><rect x="710.8" y="722.3" width="6.8" height="1.4" fill="#31a4ee"/><rect x="710.8" y="717.5" width="2" height="6.2" fill="#31a4ee"/><rect x="1233.4" y="722.3" width="6.8" height="1.4" fill="#31a4ee"/><rect x="1238.2" y="717.5" width="2" height="6.2" fill="#31a4ee"/>
<path d="M726.4 228.2 L731.0 232.8 L726.4 237.4" fill="none" stroke="#2f9be0" stroke-width="1.35" stroke-dasharray="1.3 0.5" opacity="0.7"/><path d="M732.3 228.2 L736.9 232.8 L732.3 237.4" fill="none" stroke="#2f9be0" stroke-width="1.35" stroke-dasharray="1.3 0.5" opacity="1"/><text x="745.5" y="236" font-size="11" fill="#2c9ee6">服务访问排名</text>
<rect x="911" y="255.5" width="19" height="10.5" rx="2.2" fill="#4b8ef7"/><text x="934.5" y="264.2" font-size="9.4" fill="#f0f0f0">下行流量</text><rect x="979.5" y="255.5" width="19" height="10.5" rx="2.2" fill="#fb9a36"/><text x="1003" y="264.2" font-size="9.4" fill="#f0f0f0">上行流量</text><line x1="845.5" y1="298.9" x2="845.5" y2="700.7" stroke="#7d8598" stroke-width="1" opacity="0.75"/><line x1="904.5" y1="298.9" x2="904.5" y2="700.7" stroke="#7d8598" stroke-width="1" opacity="0.75"/><line x1="964.5" y1="298.9" x2="964.5" y2="700.7" stroke="#7d8598" stroke-width="1" opacity="0.75"/><line x1="1023.5" y1="298.9" x2="1023.5" y2="700.7" stroke="#7d8598" stroke-width="1" opacity="0.75"/><line x1="1082.5" y1="298.9" x2="1082.5" y2="700.7" stroke="#7d8598" stroke-width="1" opacity="0.75"/><line x1="1142.5" y1="298.9" x2="1142.5" y2="700.7" stroke="#7d8598" stroke-width="1" opacity="0.75"/><line x1="1201.5" y1="298.9" x2="1201.5" y2="700.7" stroke="#7d8598" stroke-width="1" opacity="0.75"/><line x1="786.7" y1="298.9" x2="786.7" y2="700.7" stroke="#c8ccd6" stroke-width="1"/><line x1="782.0" y1="299.5" x2="786.5" y2="299.5" stroke="#c8ccd6" stroke-width="1"/><line x1="782.0" y1="339.5" x2="786.5" y2="339.5" stroke="#c8ccd6" stroke-width="1"/><line x1="782.0" y1="379.5" x2="786.5" y2="379.5" stroke="#c8ccd6" stroke-width="1"/><line x1="782.0" y1="419.5" x2="786.5" y2="419.5" stroke="#c8ccd6" stroke-width="1"/><line x1="782.0" y1="460.5" x2="786.5" y2="460.5" stroke="#c8ccd6" stroke-width="1"/><line x1="782.0" y1="500.5" x2="786.5" y2="500.5" stroke="#c8ccd6" stroke-width="1"/><line x1="782.0" y1="540.5" x2="786.5" y2="540.5" stroke="#c8ccd6" stroke-width="1"/><line x1="782.0" y1="580.5" x2="786.5" y2="580.5" stroke="#c8ccd6" stroke-width="1"/><line x1="782.0" y1="620.5" x2="786.5" y2="620.5" stroke="#c8ccd6" stroke-width="1"/><line x1="782.0" y1="661.5" x2="786.5" y2="661.5" stroke="#c8ccd6" stroke-width="1"/><line x1="782.0" y1="701.5" x2="786.5" y2="701.5" stroke="#c8ccd6" stroke-width="1"/><rect x="786.0" y="307.6" width="401.0" height="9.8" fill="#4b8ef7"/><rect x="786.0" y="319.8" width="7.7" height="10" fill="#fb9a36"/><text transform="translate(779.5,321.6) scale(0.915,1)" x="0" y="0" font-size="10.5" fill="#ececec" text-anchor="end">Jenkins(网页)</text><rect x="786.0" y="347.8" width="389.8" height="9.8" fill="#4b8ef7"/><rect x="786.0" y="360.0" width="7.7" height="10" fill="#fb9a36"/><text transform="translate(779.5,361.8) scale(0.915,1)" x="0" y="0" font-size="10.5" fill="#ececec" text-anchor="end">jsktest</text><rect x="786.0" y="387.9" width="40.7" height="9.8" fill="#4b8ef7"/><rect x="786.0" y="400.1" width="70.1" height="10" fill="#fb9a36"/><text transform="translate(779.5,401.9) scale(0.915,1)" x="0" y="0" font-size="10.5" fill="#ececec" text-anchor="end">edr-服务</text><rect x="786.0" y="428.1" width="39.2" height="9.8" fill="#4b8ef7"/><rect x="786.0" y="440.3" width="122.3" height="10" fill="#fb9a36"/><text transform="translate(779.5,442.1) scale(0.915,1)" x="0" y="0" font-size="10.5" fill="#ececec" text-anchor="end">117-dev</text><rect x="786.0" y="468.3" width="38.9" height="9.8" fill="#4b8ef7"/><rect x="786.0" y="480.5" width="122.6" height="10" fill="#fb9a36"/><text transform="translate(779.5,482.3) scale(0.915,1)" x="0" y="0" font-size="10.5" fill="#ececec" text-anchor="end">ssh-117</text><rect x="786.0" y="508.5" width="38.0" height="9.8" fill="#4b8ef7"/><rect x="786.0" y="520.7" width="121.7" height="10" fill="#fb9a36"/><text transform="translate(779.5,522.5) scale(0.915,1)" x="0" y="0" font-size="10.5" fill="#ececec" text-anchor="end">117-console</text><rect x="786.0" y="548.7" width="22.7" height="9.8" fill="#4b8ef7"/><rect x="786.0" y="560.9" width="6.3" height="10" fill="#fb9a36"/><text transform="translate(779.5,562.7) scale(0.915,1)" x="0" y="0" font-size="10.5" fill="#ececec" text-anchor="end">179-远程</text><rect x="786.0" y="588.9" width="22.7" height="9.8" fill="#4b8ef7"/><rect x="786.0" y="601.0" width="8.8" height="10" fill="#fb9a36"/><text transform="translate(779.5,602.9) scale(0.915,1)" x="0" y="0" font-size="10.5" fill="#ececec" text-anchor="end">138-edr(网页)</text><rect x="786.0" y="629.0" width="4.0" height="9.8" fill="#4b8ef7"/><rect x="786.0" y="641.2" width="1.2" height="10" fill="#fb9a36"/><text transform="translate(779.5,643.0) scale(0.915,1)" x="0" y="0" font-size="10.5" fill="#ececec" text-anchor="end">chanywx</text><rect x="786.0" y="669.2" width="4.0" height="9.8" fill="#4b8ef7"/><rect x="786.0" y="681.4" width="1.2" height="10" fill="#fb9a36"/><text transform="translate(779.5,683.2) scale(0.915,1)" x="0" y="0" font-size="10.5" fill="#ececec" text-anchor="end">禅道</text><text transform="translate(786.0,714) scale(0.93,1)" font-size="10.5" fill="#ececec" text-anchor="middle">0</text><text transform="translate(845.4,714) scale(0.93,1)" font-size="10.5" fill="#ececec" text-anchor="middle">100</text><text transform="translate(904.7,714) scale(0.93,1)" font-size="10.5" fill="#ececec" text-anchor="middle">200</text><text transform="translate(964.1,714) scale(0.93,1)" font-size="10.5" fill="#ececec" text-anchor="middle">300</text><text transform="translate(1023.5,714) scale(0.93,1)" font-size="10.5" fill="#ececec" text-anchor="middle">400</text><text transform="translate(1082.8,714) scale(0.93,1)" font-size="10.5" fill="#ececec" text-anchor="middle">500</text><text transform="translate(1142.2,714) scale(0.93,1)" font-size="10.5" fill="#ececec" text-anchor="middle">600</text><text transform="translate(1201.6,714) scale(0.93,1)" font-size="10.5" fill="#ececec" text-anchor="middle">700</text><text transform="translate(1220,703) scale(0.93,1)" font-size="10.4" fill="#ececec" text-anchor="middle">MB</text>
<rect x="1264.5" y="209.5" width="527.0" height="268.8" fill="#09102c" stroke="#17345f" stroke-width="1.25"/><rect x="1263.8" y="208.8" width="9" height="1.4" fill="#31a4ee"/><rect x="1263.8" y="208.8" width="2" height="7" fill="#31a4ee"/><rect x="1783.2" y="208.8" width="9" height="1.4" fill="#31a4ee"/><rect x="1790.2" y="208.8" width="2" height="7" fill="#31a4ee"/><rect x="1263.8" y="477.6" width="6.8" height="1.4" fill="#31a4ee"/><rect x="1263.8" y="472.8" width="2" height="6.2" fill="#31a4ee"/><rect x="1785.4" y="477.6" width="6.8" height="1.4" fill="#31a4ee"/><rect x="1790.2" y="472.8" width="2" height="6.2" fill="#31a4ee"/>
<path d="M1278.9 228.2 L1283.5 232.8 L1278.9 237.4" fill="none" stroke="#2f9be0" stroke-width="1.35" stroke-dasharray="1.3 0.5" opacity="0.7"/><path d="M1284.8 228.2 L1289.4 232.8 L1284.8 237.4" fill="none" stroke="#2f9be0" stroke-width="1.35" stroke-dasharray="1.3 0.5" opacity="1"/><text x="1298" y="236" font-size="11" fill="#2c9ee6">服务访问统计</text>
<text x="1528" y="263.5" font-size="10.8" fill="#ececec" text-anchor="middle">服务名称：所有服务</text><text transform="translate(1303,276.8) scale(0.92,1)" font-size="10.8" fill="#ececec" text-anchor="middle">MB</text><text transform="translate(1296.6,446.5) scale(0.94,1)" font-size="10.4" fill="#ececec" text-anchor="end">0</text><text transform="translate(1296.6,420.9) scale(0.94,1)" font-size="10.4" fill="#ececec" text-anchor="end">200</text><text transform="translate(1296.6,395.4) scale(0.94,1)" font-size="10.4" fill="#ececec" text-anchor="end">400</text><text transform="translate(1296.6,369.8) scale(0.94,1)" font-size="10.4" fill="#ececec" text-anchor="end">600</text><text transform="translate(1296.6,344.3) scale(0.94,1)" font-size="10.4" fill="#ececec" text-anchor="end">800</text><text transform="translate(1296.6,318.8) scale(0.94,1)" font-size="10.4" fill="#ececec" text-anchor="end">1,000</text><text transform="translate(1296.6,293.2) scale(0.94,1)" font-size="10.4" fill="#ececec" text-anchor="end">1,200</text><line x1="1302.7" y1="442.7" x2="1302.7" y2="446.2" stroke="#c8ccd6" stroke-width="1"/><text transform="translate(1302.7,456.4) scale(0.9,1)" font-size="10.8" fill="#ececec" text-anchor="middle">06-07</text><text transform="translate(1302.7,466.3) scale(0.9,1)" font-size="10.8" fill="#ececec" text-anchor="middle">00:00:00</text><line x1="1354.3" y1="442.7" x2="1354.3" y2="446.2" stroke="#c8ccd6" stroke-width="1"/><text transform="translate(1354.3,456.4) scale(0.9,1)" font-size="10.8" fill="#ececec" text-anchor="middle">06-07</text><text transform="translate(1354.3,466.3) scale(0.9,1)" font-size="10.8" fill="#ececec" text-anchor="middle">18:00:00</text><line x1="1405.9" y1="442.7" x2="1405.9" y2="446.2" stroke="#c8ccd6" stroke-width="1"/><text transform="translate(1405.9,456.4) scale(0.9,1)" font-size="10.8" fill="#ececec" text-anchor="middle">06-08</text><text transform="translate(1405.9,466.3) scale(0.9,1)" font-size="10.8" fill="#ececec" text-anchor="middle">12:00:00</text><line x1="1457.5" y1="442.7" x2="1457.5" y2="446.2" stroke="#c8ccd6" stroke-width="1"/><text transform="translate(1457.5,456.4) scale(0.9,1)" font-size="10.8" fill="#ececec" text-anchor="middle">06-09</text><text transform="translate(1457.5,466.3) scale(0.9,1)" font-size="10.8" fill="#ececec" text-anchor="middle">06:00:00</text><line x1="1509.1" y1="442.7" x2="1509.1" y2="446.2" stroke="#c8ccd6" stroke-width="1"/><text transform="translate(1509.1,456.4) scale(0.9,1)" font-size="10.8" fill="#ececec" text-anchor="middle">06-10</text><text transform="translate(1509.1,466.3) scale(0.9,1)" font-size="10.8" fill="#ececec" text-anchor="middle">00:00:00</text><line x1="1560.7" y1="442.7" x2="1560.7" y2="446.2" stroke="#c8ccd6" stroke-width="1"/><text transform="translate(1560.7,456.4) scale(0.9,1)" font-size="10.8" fill="#ececec" text-anchor="middle">06-10</text><text transform="translate(1560.7,466.3) scale(0.9,1)" font-size="10.8" fill="#ececec" text-anchor="middle">18:00:00</text><line x1="1612.3" y1="442.7" x2="1612.3" y2="446.2" stroke="#c8ccd6" stroke-width="1"/><text transform="translate(1612.3,456.4) scale(0.9,1)" font-size="10.8" fill="#ececec" text-anchor="middle">06-11</text><text transform="translate(1612.3,466.3) scale(0.9,1)" font-size="10.8" fill="#ececec" text-anchor="middle">12:00:00</text><line x1="1663.9" y1="442.7" x2="1663.9" y2="446.2" stroke="#c8ccd6" stroke-width="1"/><text transform="translate(1663.9,456.4) scale(0.9,1)" font-size="10.8" fill="#ececec" text-anchor="middle">06-12</text><text transform="translate(1663.9,466.3) scale(0.9,1)" font-size="10.8" fill="#ececec" text-anchor="middle">06:00:00</text><line x1="1715.5" y1="442.7" x2="1715.5" y2="446.2" stroke="#c8ccd6" stroke-width="1"/><text transform="translate(1715.5,456.4) scale(0.9,1)" font-size="10.8" fill="#ececec" text-anchor="middle">06-13</text><text transform="translate(1715.5,466.3) scale(0.9,1)" font-size="10.8" fill="#ececec" text-anchor="middle">00:00:00</text><line x1="1302.7" y1="442.9" x2="1760.5" y2="442.9" stroke="#c8ccd6" stroke-width="1"/><path d="M1302.7 442.7 L1303.2 442.7 L1303.7 442.7 L1304.2 442.7 L1304.7 442.7 L1305.2 442.7 L1305.7 442.7 L1306.2 442.7 L1306.7 442.7 L1307.2 442.7 L1307.7 442.7 L1308.2 442.7 L1308.7 442.7 L1309.2 442.7 L1309.7 442.7 L1310.2 442.7 L1310.7 442.7 L1311.2 442.7 L1311.7 442.7 L1312.2 442.7 L1312.7 442.7 L1313.2 442.7 L1313.7 442.7 L1314.2 442.7 L1314.7 442.7 L1315.2 442.7 L1315.7 442.7 L1316.2 442.7 L1316.7 442.7 L1317.2 442.7 L1317.7 442.7 L1318.2 442.7 L1318.7 442.7 L1319.2 442.7 L1319.7 442.7 L1320.2 442.7 L1320.7 442.7 L1321.2 442.7 L1321.7 442.7 L1322.2 442.7 L1322.7 442.7 L1323.2 442.7 L1323.7 442.7 L1324.2 442.7 L1324.7 442.7 L1325.2 442.7 L1325.7 442.7 L1326.2 442.7 L1326.7 442.7 L1327.2 442.7 L1327.7 442.7 L1328.2 442.7 L1328.7 442.7 L1329.2 442.6 L1329.7 442.3 L1330.2 441.6 L1330.7 440.1 L1331.2 437.2 L1331.7 432.3 L1332.2 425.4 L1332.7 417.2 L1333.2 409.5 L1333.7 404.6 L1334.2 404.1 L1334.7 408.2 L1335.2 415.5 L1335.7 423.8 L1336.2 431.1 L1336.7 436.4 L1337.2 439.7 L1337.7 441.3 L1338.2 442.0 L1338.7 442.0 L1339.2 441.5 L1339.7 440.3 L1340.2 438.6 L1340.7 436.1 L1341.2 433.2 L1341.7 430.4 L1342.2 428.4 L1342.7 427.6 L1343.2 428.3 L1343.7 430.3 L1344.2 433.0 L1344.7 435.7 L1345.2 437.9 L1345.7 439.2 L1346.2 439.7 L1346.7 439.6 L1347.2 438.9 L1347.7 438.0 L1348.2 437.0 L1348.7 436.1 L1349.2 435.5 L1349.7 435.3 L1350.2 435.2 L1350.7 435.4 L1351.2 435.7 L1351.7 436.2 L1352.2 436.8 L1352.7 437.6 L1353.2 438.6 L1353.7 439.7 L1354.2 440.6 L1354.7 441.0 L1355.2 440.8 L1355.7 439.6 L1356.2 437.7 L1356.7 435.8 L1357.2 435.0 L1357.7 435.8 L1358.2 437.7 L1358.7 439.7 L1359.2 441.1 L1359.7 441.8 L1360.2 442.0 L1360.7 442.0 L1361.2 441.8 L1361.7 441.6 L1362.2 441.5 L1362.7 441.4 L1363.2 441.4 L1363.7 441.5 L1364.2 441.6 L1364.7 441.8 L1365.2 442.0 L1365.7 442.1 L1366.2 442.3 L1366.7 442.4 L1367.2 442.5 L1367.7 442.6 L1368.2 442.6 L1368.7 442.7 L1369.2 442.7 L1369.7 442.7 L1370.2 442.7 L1370.7 442.7 L1371.2 442.7 L1371.7 442.7 L1372.2 442.7 L1372.7 442.7 L1373.2 442.7 L1373.7 442.7 L1374.2 442.7 L1374.7 442.7 L1375.2 442.7 L1375.7 442.7 L1376.2 442.7 L1376.7 442.7 L1377.2 442.7 L1377.7 442.7 L1378.2 442.7 L1378.7 442.7 L1379.2 442.7 L1379.7 442.7 L1380.2 442.7 L1380.7 442.7 L1381.2 442.7 L1381.7 442.7 L1382.2 442.7 L1382.7 442.7 L1383.2 442.7 L1383.7 442.7 L1384.2 442.7 L1384.7 442.7 L1385.2 442.7 L1385.7 442.7 L1386.2 442.7 L1386.7 442.7 L1387.2 442.7 L1387.7 442.7 L1388.2 442.7 L1388.7 442.7 L1389.2 442.7 L1389.7 442.7 L1390.2 442.7 L1390.7 442.7 L1391.2 442.7 L1391.7 442.7 L1392.2 442.7 L1392.7 442.7 L1393.2 442.7 L1393.7 442.7 L1394.2 442.7 L1394.7 442.7 L1395.2 442.7 L1395.7 442.7 L1396.2 442.7 L1396.7 442.7 L1397.2 442.7 L1397.7 442.7 L1398.2 442.6 L1398.7 442.5 L1399.2 442.2 L1399.7 441.4 L1400.2 440.0 L1400.7 437.7 L1401.2 434.6 L1401.7 431.1 L1402.2 428.0 L1402.7 426.3 L1403.2 426.5 L1403.7 428.5 L1404.2 431.8 L1404.7 435.3 L1405.2 438.3 L1405.7 440.4 L1406.2 441.6 L1406.7 442.2 L1407.2 442.4 L1407.7 442.3 L1408.2 441.3 L1408.7 438.6 L1409.2 432.4 L1409.7 421.1 L1410.2 404.4 L1410.7 385.7 L1411.2 371.3 L1411.7 367.4 L1412.2 375.7 L1412.7 392.2 L1413.2 410.1 L1413.7 423.8 L1414.2 431.6 L1414.7 434.7 L1415.2 435.0 L1415.7 434.4 L1416.2 433.8 L1416.7 433.8 L1417.2 434.4 L1417.7 435.5 L1418.2 436.8 L1418.7 437.9 L1419.2 438.0 L1419.7 436.2 L1420.2 431.5 L1420.7 422.9 L1421.2 410.3 L1421.7 395.3 L1422.2 381.1 L1422.7 372.1 L1423.2 371.2 L1423.7 378.8 L1424.2 392.3 L1424.7 407.7 L1425.2 421.2 L1425.7 431.0 L1426.2 437.1 L1426.7 440.3 L1427.2 441.8 L1427.7 442.4 L1428.2 442.6 L1428.7 442.7 L1429.2 442.7 L1429.7 442.7 L1430.2 442.7 L1430.7 442.7 L1431.2 442.7 L1431.7 442.7 L1432.2 442.7 L1432.7 442.7 L1433.2 442.7 L1433.7 442.7 L1434.2 442.7 L1434.7 442.7 L1435.2 442.7 L1435.7 442.7 L1436.2 442.7 L1436.7 442.7 L1437.2 442.7 L1437.7 442.7 L1438.2 442.7 L1438.7 442.7 L1439.2 442.7 L1439.7 442.7 L1440.2 442.7 L1440.7 442.7 L1441.2 442.7 L1441.7 442.7 L1442.2 442.7 L1442.7 442.7 L1443.2 442.7 L1443.7 442.7 L1444.2 442.7 L1444.7 442.7 L1445.2 442.7 L1445.7 442.7 L1446.2 442.7 L1446.7 442.7 L1447.2 442.7 L1447.7 442.7 L1448.2 442.7 L1448.7 442.7 L1449.2 442.7 L1449.7 442.7 L1450.2 442.7 L1450.7 442.7 L1451.2 442.7 L1451.7 442.7 L1452.2 442.7 L1452.7 442.7 L1453.2 442.7 L1453.7 442.7 L1454.2 442.7 L1454.7 442.7 L1455.2 442.7 L1455.7 442.7 L1456.2 442.7 L1456.7 442.7 L1457.2 442.7 L1457.7 442.7 L1458.2 442.7 L1458.7 442.7 L1459.2 442.7 L1459.7 442.7 L1460.2 442.7 L1460.7 442.7 L1461.2 442.7 L1461.7 442.7 L1462.2 442.7 L1462.7 442.7 L1463.2 442.7 L1463.7 442.7 L1464.2 442.7 L1464.7 442.7 L1465.2 442.7 L1465.7 442.7 L1466.2 442.6 L1466.7 442.5 L1467.2 442.1 L1467.7 441.4 L1468.2 440.4 L1468.7 439.6 L1469.2 439.6 L1469.7 440.2 L1470.2 441.2 L1470.7 442.0 L1471.2 442.4 L1471.7 442.6 L1472.2 442.6 L1472.7 442.5 L1473.2 442.1 L1473.7 441.4 L1474.2 440.5 L1474.7 439.8 L1475.2 439.7 L1475.7 440.3 L1476.2 441.2 L1476.7 442.0 L1477.2 442.4 L1477.7 442.4 L1478.2 442.1 L1478.7 441.3 L1479.2 440.2 L1479.7 438.9 L1480.2 438.0 L1480.7 437.9 L1481.2 438.5 L1481.7 439.4 L1482.2 439.7 L1482.7 438.6 L1483.2 435.4 L1483.7 429.9 L1484.2 422.5 L1484.7 414.6 L1485.2 408.3 L1485.7 405.4 L1486.2 406.3 L1486.7 409.9 L1487.2 414.0 L1487.7 417.2 L1488.2 418.8 L1488.7 419.4 L1489.2 420.0 L1489.7 421.4 L1490.2 423.9 L1490.7 427.1 L1491.2 430.7 L1491.7 434.1 L1492.2 437.0 L1492.7 439.2 L1493.2 440.7 L1493.7 441.6 L1494.2 442.2 L1494.7 442.5 L1495.2 442.6 L1495.7 442.7 L1496.2 442.7 L1496.7 442.7 L1497.2 442.7 L1497.7 442.7 L1498.2 442.7 L1498.7 442.7 L1499.2 442.7 L1499.7 442.7 L1500.2 442.7 L1500.7 442.7 L1501.2 442.7 L1501.7 442.7 L1502.2 442.7 L1502.7 442.7 L1503.2 442.7 L1503.7 442.7 L1504.2 442.7 L1504.7 442.7 L1505.2 442.7 L1505.7 442.7 L1506.2 442.7 L1506.7 442.7 L1507.2 442.7 L1507.7 442.7 L1508.2 442.7 L1508.7 442.7 L1509.2 442.7 L1509.7 442.7 L1510.2 442.7 L1510.7 442.7 L1511.2 442.7 L1511.7 442.7 L1512.2 442.7 L1512.7 442.7 L1513.2 442.7 L1513.7 442.7 L1514.2 442.7 L1514.7 442.7 L1515.2 442.7 L1515.7 442.7 L1516.2 442.7 L1516.7 442.7 L1517.2 442.7 L1517.7 442.7 L1518.2 442.7 L1518.7 442.7 L1519.2 442.7 L1519.7 442.7 L1520.2 442.7 L1520.7 442.7 L1521.2 442.7 L1521.7 442.7 L1522.2 442.7 L1522.7 442.7 L1523.2 442.7 L1523.7 442.7 L1524.2 442.7 L1524.7 442.7 L1525.2 442.7 L1525.7 442.7 L1526.2 442.7 L1526.7 442.7 L1527.2 442.7 L1527.7 442.7 L1528.2 442.7 L1528.7 442.7 L1529.2 442.7 L1529.7 442.7 L1530.2 442.7 L1530.7 442.7 L1531.2 442.7 L1531.7 442.7 L1532.2 442.7 L1532.7 442.7 L1533.2 442.7 L1533.7 442.7 L1534.2 442.7 L1534.7 442.7 L1535.2 442.7 L1535.7 442.7 L1536.2 442.7 L1536.7 442.6 L1537.2 442.4 L1537.7 441.7 L1538.2 440.5 L1538.7 438.2 L1539.2 435.0 L1539.7 431.4 L1540.2 428.5 L1540.7 427.4 L1541.2 428.5 L1541.7 431.4 L1542.2 435.0 L1542.7 438.2 L1543.2 440.5 L1543.7 441.7 L1544.2 442.1 L1544.7 441.7 L1545.2 440.1 L1545.7 435.7 L1546.2 426.5 L1546.7 409.9 L1547.2 384.8 L1547.7 353.7 L1548.2 323.7 L1548.7 304.1 L1549.2 302.2 L1549.7 318.7 L1550.2 347.4 L1550.7 378.9 L1551.2 405.5 L1551.7 423.8 L1552.2 434.3 L1552.7 439.4 L1553.2 441.5 L1553.7 442.1 L1554.2 442.0 L1554.7 441.7 L1555.2 441.2 L1555.7 440.5 L1556.2 439.7 L1556.7 438.9 L1557.2 438.3 L1557.7 437.9 L1558.2 437.9 L1558.7 438.2 L1559.2 438.8 L1559.7 439.5 L1560.2 440.3 L1560.7 441.0 L1561.2 441.6 L1561.7 442.1 L1562.2 442.3 L1562.7 442.5 L1563.2 442.6 L1563.7 442.7 L1564.2 442.7 L1564.7 442.7 L1565.2 442.7 L1565.7 442.7 L1566.2 442.7 L1566.7 442.7 L1567.2 442.7 L1567.7 442.7 L1568.2 442.7 L1568.7 442.7 L1569.2 442.7 L1569.7 442.7 L1570.2 442.7 L1570.7 442.7 L1571.2 442.7 L1571.7 442.7 L1572.2 442.7 L1572.7 442.7 L1573.2 442.7 L1573.7 442.7 L1574.2 442.7 L1574.7 442.7 L1575.2 442.7 L1575.7 442.7 L1576.2 442.7 L1576.7 442.7 L1577.2 442.7 L1577.7 442.7 L1578.2 442.6 L1578.7 442.6 L1579.2 442.5 L1579.7 442.5 L1580.2 442.4 L1580.7 442.3 L1581.2 442.2 L1581.7 442.1 L1582.2 442.0 L1582.7 441.9 L1583.2 441.9 L1583.7 442.0 L1584.2 442.0 L1584.7 442.1 L1585.2 442.3 L1585.7 442.4 L1586.2 442.5 L1586.7 442.5 L1587.2 442.6 L1587.7 442.6 L1588.2 442.7 L1588.7 442.7 L1589.2 442.7 L1589.7 442.7 L1590.2 442.7 L1590.7 442.7 L1591.2 442.7 L1591.7 442.7 L1592.2 442.7 L1592.7 442.7 L1593.2 442.7 L1593.7 442.7 L1594.2 442.7 L1594.7 442.7 L1595.2 442.7 L1595.7 442.7 L1596.2 442.7 L1596.7 442.7 L1597.2 442.7 L1597.7 442.7 L1598.2 442.7 L1598.7 442.7 L1599.2 442.7 L1599.7 442.7 L1600.2 442.7 L1600.7 442.7 L1601.2 442.7 L1601.7 442.7 L1602.2 442.7 L1602.7 442.7 L1603.2 442.7 L1603.7 442.7 L1604.2 442.7 L1604.7 442.7 L1605.2 442.7 L1605.7 442.7 L1606.2 442.7 L1606.7 442.7 L1607.2 442.7 L1607.7 442.7 L1608.2 442.7 L1608.7 442.7 L1609.2 442.7 L1609.7 442.7 L1610.2 442.7 L1610.7 442.7 L1611.2 442.7 L1611.7 442.7 L1612.2 442.7 L1612.7 442.7 L1613.2 442.7 L1613.7 442.7 L1614.2 442.7 L1614.7 442.7 L1615.2 442.7 L1615.7 442.7 L1616.2 442.7 L1616.7 442.7 L1617.2 442.7 L1617.7 442.7 L1618.2 442.7 L1618.7 442.7 L1619.2 442.7 L1619.7 442.7 L1620.2 442.7 L1620.7 442.7 L1621.2 442.7 L1621.7 442.7 L1622.2 442.7 L1622.7 442.7 L1623.2 442.7 L1623.7 442.7 L1624.2 442.7 L1624.7 442.7 L1625.2 442.7 L1625.7 442.7 L1626.2 442.7 L1626.7 442.7 L1627.2 442.7 L1627.7 442.7 L1628.2 442.7 L1628.7 442.7 L1629.2 442.7 L1629.7 442.7 L1630.2 442.7 L1630.7 442.7 L1631.2 442.7 L1631.7 442.7 L1632.2 442.7 L1632.7 442.7 L1633.2 442.7 L1633.7 442.7 L1634.2 442.7 L1634.7 442.7 L1635.2 442.7 L1635.7 442.7 L1636.2 442.7 L1636.7 442.7 L1637.2 442.7 L1637.7 442.7 L1638.2 442.7 L1638.7 442.7 L1639.2 442.7 L1639.7 442.7 L1640.2 442.7 L1640.7 442.7 L1641.2 442.7 L1641.7 442.7 L1642.2 442.7 L1642.7 442.7 L1643.2 442.7 L1643.7 442.7 L1644.2 442.7 L1644.7 442.7 L1645.2 442.7 L1645.7 442.7 L1646.2 442.7 L1646.7 442.7 L1647.2 442.7 L1647.7 442.7 L1648.2 442.6 L1648.7 442.5 L1649.2 442.4 L1649.7 442.3 L1650.2 442.2 L1650.7 442.0 L1651.2 441.9 L1651.7 441.8 L1652.2 441.8 L1652.7 441.9 L1653.2 442.0 L1653.7 442.1 L1654.2 442.3 L1654.7 442.4 L1655.2 442.5 L1655.7 442.6 L1656.2 442.6 L1656.7 442.7 L1657.2 442.7 L1657.7 442.7 L1658.2 442.7 L1658.7 442.7 L1659.2 442.7 L1659.7 442.7 L1660.2 442.7 L1660.7 442.7 L1661.2 442.7 L1661.7 442.7 L1662.2 442.7 L1662.7 442.7 L1663.2 442.7 L1663.7 442.7 L1664.2 442.7 L1664.7 442.7 L1665.2 442.7 L1665.7 442.7 L1666.2 442.7 L1666.7 442.7 L1667.2 442.7 L1667.7 442.7 L1668.2 442.7 L1668.7 442.7 L1669.2 442.7 L1669.7 442.7 L1670.2 442.7 L1670.7 442.7 L1671.2 442.7 L1671.7 442.7 L1672.2 442.7 L1672.7 442.7 L1673.2 442.7 L1673.7 442.7 L1674.2 442.7 L1674.7 442.7 L1675.2 442.7 L1675.7 442.7 L1676.2 442.7 L1676.7 442.7 L1677.2 442.7 L1677.7 442.7 L1678.2 442.7 L1678.7 442.7 L1679.2 442.7 L1679.7 442.7 L1680.2 442.7 L1680.7 442.7 L1681.2 442.7 L1681.7 442.7 L1682.2 442.7 L1682.7 442.7 L1683.2 442.7 L1683.7 442.7 L1684.2 442.7 L1684.7 442.7 L1685.2 442.7 L1685.7 442.7 L1686.2 442.7 L1686.7 442.7 L1687.2 442.7 L1687.7 442.7 L1688.2 442.7 L1688.7 442.7 L1689.2 442.7 L1689.7 442.7 L1690.2 442.7 L1690.7 442.7 L1691.2 442.7 L1691.7 442.7 L1692.2 442.7 L1692.7 442.7 L1693.2 442.7 L1693.7 442.7 L1694.2 442.7 L1694.7 442.7 L1695.2 442.7 L1695.7 442.7 L1696.2 442.7 L1696.7 442.7 L1697.2 442.7 L1697.7 442.7 L1698.2 442.7 L1698.7 442.7 L1699.2 442.7 L1699.7 442.7 L1700.2 442.7 L1700.7 442.7 L1701.2 442.7 L1701.7 442.7 L1702.2 442.7 L1702.7 442.7 L1703.2 442.7 L1703.7 442.7 L1704.2 442.7 L1704.7 442.7 L1705.2 442.7 L1705.7 442.7 L1706.2 442.7 L1706.7 442.7 L1707.2 442.7 L1707.7 442.7 L1708.2 442.7 L1708.7 442.7 L1709.2 442.7 L1709.7 442.7 L1710.2 442.7 L1710.7 442.7 L1711.2 442.7 L1711.7 442.7 L1712.2 442.7 L1712.7 442.7 L1713.2 442.7 L1713.7 442.7 L1714.2 442.7 L1714.7 442.7 L1715.2 442.7 L1715.7 442.7 L1716.2 442.7 L1716.7 442.7 L1717.2 442.6 L1717.7 442.5 L1718.2 442.4 L1718.7 442.1 L1719.2 441.9 L1719.7 441.6 L1720.2 441.5 L1720.7 441.4 L1721.2 441.6 L1721.7 441.8 L1722.2 442.1 L1722.7 442.3 L1723.2 442.5 L1723.7 442.6 L1724.2 442.7 L1724.7 442.7 L1725.2 442.7 L1725.7 442.7 L1726.2 442.7 L1726.7 442.7 L1727.2 442.7 L1727.7 442.7 L1728.2 442.7 L1728.7 442.7 L1729.2 442.7 L1729.7 442.7 L1730.2 442.7 L1730.7 442.7 L1731.2 442.7 L1731.7 442.7 L1732.2 442.7 L1732.7 442.7 L1733.2 442.7 L1733.7 442.7 L1734.2 442.7 L1734.7 442.7 L1735.2 442.7 L1735.7 442.7 L1736.2 442.7 L1736.7 442.7 L1737.2 442.7 L1737.7 442.7 L1738.2 442.7 L1738.7 442.7 L1739.2 442.7 L1739.7 442.7 L1740.2 442.7 L1740.7 442.7 L1741.2 442.5 L1741.7 442.2 L1742.2 441.5 L1742.7 440.6 L1743.2 439.8 L1743.7 439.5 L1744.2 440.0 L1744.7 441.0 L1745.2 441.8 L1745.7 442.4 L1746.2 442.6 L1746.7 442.7 L1747.2 442.7 L1747.7 442.7 L1748.2 442.7 L1748.7 442.7 L1749.2 442.7 L1749.7 442.7 L1750.2 442.7 L1750.7 442.7 L1751.2 442.7 L1751.7 442.7 L1752.2 442.5 L1752.7 442.1 L1753.2 440.7 L1753.7 437.9 L1754.2 433.6 L1754.7 429.4 L1755.2 427.6 L1755.7 429.4 L1756.2 433.6 L1756.7 437.9 L1757.2 440.7 L1757.7 442.1 L1758.2 442.5 L1758.7 442.7 L1759.2 442.7 L1759.7 442.7 L1760.2 442.7 L1760.5 442.7 L1302.7 442.7 Z" fill="#fb9a36" fill-opacity="0.2" stroke="none"/><path d="M1302.7 442.7 L1303.2 442.7 L1303.7 442.7 L1304.2 442.7 L1304.7 442.7 L1305.2 442.7 L1305.7 442.7 L1306.2 442.7 L1306.7 442.7 L1307.2 442.7 L1307.7 442.7 L1308.2 442.7 L1308.7 442.7 L1309.2 442.7 L1309.7 442.7 L1310.2 442.7 L1310.7 442.7 L1311.2 442.7 L1311.7 442.7 L1312.2 442.7 L1312.7 442.7 L1313.2 442.7 L1313.7 442.7 L1314.2 442.7 L1314.7 442.7 L1315.2 442.7 L1315.7 442.7 L1316.2 442.7 L1316.7 442.7 L1317.2 442.7 L1317.7 442.7 L1318.2 442.7 L1318.7 442.7 L1319.2 442.7 L1319.7 442.7 L1320.2 442.7 L1320.7 442.7 L1321.2 442.7 L1321.7 442.7 L1322.2 442.7 L1322.7 442.7 L1323.2 442.7 L1323.7 442.7 L1324.2 442.7 L1324.7 442.7 L1325.2 442.7 L1325.7 442.7 L1326.2 442.7 L1326.7 442.7 L1327.2 442.7 L1327.7 442.7 L1328.2 442.7 L1328.7 442.7 L1329.2 442.7 L1329.7 442.7 L1330.2 442.7 L1330.7 442.7 L1331.2 442.7 L1331.7 442.7 L1332.2 442.7 L1332.7 442.7 L1333.2 442.7 L1333.7 442.7 L1334.2 442.7 L1334.7 442.7 L1335.2 442.7 L1335.7 442.7 L1336.2 442.6 L1336.7 442.6 L1337.2 442.5 L1337.7 442.3 L1338.2 442.1 L1338.7 441.7 L1339.2 441.2 L1339.7 440.6 L1340.2 439.8 L1340.7 439.0 L1341.2 438.2 L1341.7 437.6 L1342.2 437.1 L1342.7 436.9 L1343.2 437.1 L1343.7 437.5 L1344.2 438.2 L1344.7 438.9 L1345.2 439.7 L1345.7 440.4 L1346.2 440.9 L1346.7 441.3 L1347.2 441.5 L1347.7 441.5 L1348.2 441.4 L1348.7 441.3 L1349.2 441.2 L1349.7 441.2 L1350.2 441.2 L1350.7 441.2 L1351.2 441.4 L1351.7 441.6 L1352.2 441.8 L1352.7 442.0 L1353.2 442.2 L1353.7 442.4 L1354.2 442.5 L1354.7 442.6 L1355.2 442.6 L1355.7 442.7 L1356.2 442.7 L1356.7 442.7 L1357.2 442.7 L1357.7 442.7 L1358.2 442.7 L1358.7 442.7 L1359.2 442.7 L1359.7 442.7 L1360.2 442.7 L1360.7 442.7 L1361.2 442.7 L1361.7 442.7 L1362.2 442.7 L1362.7 442.7 L1363.2 442.7 L1363.7 442.7 L1364.2 442.7 L1364.7 442.7 L1365.2 442.7 L1365.7 442.7 L1366.2 442.7 L1366.7 442.7 L1367.2 442.7 L1367.7 442.7 L1368.2 442.7 L1368.7 442.7 L1369.2 442.7 L1369.7 442.7 L1370.2 442.7 L1370.7 442.7 L1371.2 442.7 L1371.7 442.7 L1372.2 442.7 L1372.7 442.7 L1373.2 442.7 L1373.7 442.7 L1374.2 442.7 L1374.7 442.7 L1375.2 442.7 L1375.7 442.7 L1376.2 442.7 L1376.7 442.7 L1377.2 442.7 L1377.7 442.7 L1378.2 442.7 L1378.7 442.7 L1379.2 442.7 L1379.7 442.7 L1380.2 442.7 L1380.7 442.7 L1381.2 442.7 L1381.7 442.7 L1382.2 442.7 L1382.7 442.7 L1383.2 442.7 L1383.7 442.7 L1384.2 442.7 L1384.7 442.7 L1385.2 442.7 L1385.7 442.7 L1386.2 442.7 L1386.7 442.7 L1387.2 442.7 L1387.7 442.7 L1388.2 442.7 L1388.7 442.7 L1389.2 442.7 L1389.7 442.7 L1390.2 442.7 L1390.7 442.7 L1391.2 442.7 L1391.7 442.7 L1392.2 442.7 L1392.7 442.7 L1393.2 442.7 L1393.7 442.7 L1394.2 442.7 L1394.7 442.7 L1395.2 442.7 L1395.7 442.7 L1396.2 442.7 L1396.7 442.7 L1397.2 442.7 L1397.7 442.7 L1398.2 442.7 L1398.7 442.6 L1399.2 442.4 L1399.7 441.9 L1400.2 441.0 L1400.7 439.7 L1401.2 437.7 L1401.7 435.6 L1402.2 433.7 L1402.7 432.6 L1403.2 432.7 L1403.7 434.0 L1404.2 436.0 L1404.7 438.2 L1405.2 440.0 L1405.7 441.3 L1406.2 442.0 L1406.7 442.4 L1407.2 442.5 L1407.7 442.4 L1408.2 442.0 L1408.7 440.7 L1409.2 438.3 L1409.7 434.1 L1410.2 428.4 L1410.7 422.3 L1411.2 417.7 L1411.7 416.5 L1412.2 419.1 L1412.7 424.4 L1413.2 430.3 L1413.7 435.1 L1414.2 438.0 L1414.7 439.2 L1415.2 439.2 L1415.7 438.7 L1416.2 438.0 L1416.7 437.6 L1417.2 437.6 L1417.7 437.9 L1418.2 438.4 L1418.7 439.0 L1419.2 439.1 L1419.7 438.6 L1420.2 437.0 L1420.7 434.2 L1421.2 430.3 L1421.7 425.9 L1422.2 421.9 L1422.7 419.5 L1423.2 419.2 L1423.7 421.3 L1424.2 425.1 L1424.7 429.7 L1425.2 434.0 L1425.7 437.5 L1426.2 439.9 L1426.7 441.3 L1427.2 442.1 L1427.7 442.5 L1428.2 442.6 L1428.7 442.7 L1429.2 442.7 L1429.7 442.7 L1430.2 442.7 L1430.7 442.7 L1431.2 442.7 L1431.7 442.7 L1432.2 442.7 L1432.7 442.7 L1433.2 442.7 L1433.7 442.7 L1434.2 442.7 L1434.7 442.7 L1435.2 442.7 L1435.7 442.7 L1436.2 442.7 L1436.7 442.7 L1437.2 442.7 L1437.7 442.7 L1438.2 442.7 L1438.7 442.7 L1439.2 442.7 L1439.7 442.7 L1440.2 442.7 L1440.7 442.7 L1441.2 442.7 L1441.7 442.7 L1442.2 442.7 L1442.7 442.7 L1443.2 442.7 L1443.7 442.7 L1444.2 442.7 L1444.7 442.7 L1445.2 442.7 L1445.7 442.7 L1446.2 442.7 L1446.7 442.7 L1447.2 442.7 L1447.7 442.7 L1448.2 442.7 L1448.7 442.7 L1449.2 442.7 L1449.7 442.7 L1450.2 442.7 L1450.7 442.7 L1451.2 442.7 L1451.7 442.7 L1452.2 442.7 L1452.7 442.7 L1453.2 442.7 L1453.7 442.7 L1454.2 442.7 L1454.7 442.7 L1455.2 442.7 L1455.7 442.7 L1456.2 442.7 L1456.7 442.7 L1457.2 442.7 L1457.7 442.7 L1458.2 442.7 L1458.7 442.7 L1459.2 442.7 L1459.7 442.7 L1460.2 442.7 L1460.7 442.7 L1461.2 442.7 L1461.7 442.7 L1462.2 442.7 L1462.7 442.7 L1463.2 442.7 L1463.7 442.7 L1464.2 442.7 L1464.7 442.7 L1465.2 442.7 L1465.7 442.7 L1466.2 442.7 L1466.7 442.7 L1467.2 442.7 L1467.7 442.7 L1468.2 442.7 L1468.7 442.7 L1469.2 442.7 L1469.7 442.7 L1470.2 442.7 L1470.7 442.7 L1471.2 442.7 L1471.7 442.7 L1472.2 442.7 L1472.7 442.7 L1473.2 442.7 L1473.7 442.7 L1474.2 442.7 L1474.7 442.7 L1475.2 442.7 L1475.7 442.7 L1476.2 442.7 L1476.7 442.7 L1477.2 442.7 L1477.7 442.7 L1478.2 442.7 L1478.7 442.7 L1479.2 442.7 L1479.7 442.7 L1480.2 442.7 L1480.7 442.6 L1481.2 442.5 L1481.7 442.4 L1482.2 442.1 L1482.7 441.7 L1483.2 441.1 L1483.7 440.2 L1484.2 439.0 L1484.7 437.5 L1485.2 435.7 L1485.7 434.0 L1486.2 432.3 L1486.7 431.0 L1487.2 430.3 L1487.7 430.2 L1488.2 430.8 L1488.7 432.0 L1489.2 433.6 L1489.7 435.4 L1490.2 437.1 L1490.7 438.7 L1491.2 440.0 L1491.7 440.9 L1492.2 441.6 L1492.7 442.1 L1493.2 442.4 L1493.7 442.5 L1494.2 442.6 L1494.7 442.7 L1495.2 442.7 L1495.7 442.7 L1496.2 442.7 L1496.7 442.7 L1497.2 442.7 L1497.7 442.7 L1498.2 442.7 L1498.7 442.7 L1499.2 442.7 L1499.7 442.7 L1500.2 442.7 L1500.7 442.7 L1501.2 442.7 L1501.7 442.7 L1502.2 442.7 L1502.7 442.7 L1503.2 442.7 L1503.7 442.7 L1504.2 442.7 L1504.7 442.7 L1505.2 442.7 L1505.7 442.7 L1506.2 442.7 L1506.7 442.7 L1507.2 442.7 L1507.7 442.7 L1508.2 442.7 L1508.7 442.7 L1509.2 442.7 L1509.7 442.7 L1510.2 442.7 L1510.7 442.7 L1511.2 442.7 L1511.7 442.7 L1512.2 442.7 L1512.7 442.7 L1513.2 442.7 L1513.7 442.7 L1514.2 442.7 L1514.7 442.7 L1515.2 442.7 L1515.7 442.7 L1516.2 442.7 L1516.7 442.7 L1517.2 442.7 L1517.7 442.7 L1518.2 442.7 L1518.7 442.7 L1519.2 442.7 L1519.7 442.7 L1520.2 442.7 L1520.7 442.7 L1521.2 442.7 L1521.7 442.7 L1522.2 442.7 L1522.7 442.7 L1523.2 442.7 L1523.7 442.7 L1524.2 442.7 L1524.7 442.7 L1525.2 442.7 L1525.7 442.7 L1526.2 442.7 L1526.7 442.7 L1527.2 442.7 L1527.7 442.7 L1528.2 442.7 L1528.7 442.7 L1529.2 442.7 L1529.7 442.7 L1530.2 442.7 L1530.7 442.7 L1531.2 442.7 L1531.7 442.7 L1532.2 442.7 L1532.7 442.7 L1533.2 442.7 L1533.7 442.7 L1534.2 442.7 L1534.7 442.7 L1535.2 442.7 L1535.7 442.7 L1536.2 442.7 L1536.7 442.7 L1537.2 442.6 L1537.7 442.3 L1538.2 441.8 L1538.7 440.9 L1539.2 439.6 L1539.7 438.2 L1540.2 437.0 L1540.7 436.6 L1541.2 437.0 L1541.7 438.2 L1542.2 439.6 L1542.7 440.9 L1543.2 441.8 L1543.7 442.3 L1544.2 442.5 L1544.7 442.6 L1545.2 442.5 L1545.7 442.2 L1546.2 441.8 L1546.7 441.2 L1547.2 440.4 L1547.7 439.5 L1548.2 438.8 L1548.7 438.3 L1549.2 438.3 L1549.7 438.7 L1550.2 439.4 L1550.7 440.2 L1551.2 441.1 L1551.7 441.7 L1552.2 442.1 L1552.7 442.4 L1553.2 442.5 L1553.7 442.5 L1554.2 442.5 L1554.7 442.3 L1555.2 442.1 L1555.7 441.9 L1556.2 441.6 L1556.7 441.3 L1557.2 441.1 L1557.7 440.9 L1558.2 440.9 L1558.7 441.0 L1559.2 441.3 L1559.7 441.5 L1560.2 441.8 L1560.7 442.1 L1561.2 442.3 L1561.7 442.5 L1562.2 442.6 L1562.7 442.6 L1563.2 442.7 L1563.7 442.7 L1564.2 442.7 L1564.7 442.7 L1565.2 442.7 L1565.7 442.7 L1566.2 442.7 L1566.7 442.7 L1567.2 442.7 L1567.7 442.7 L1568.2 442.7 L1568.7 442.7 L1569.2 442.7 L1569.7 442.7 L1570.2 442.7 L1570.7 442.7 L1571.2 442.7 L1571.7 442.7 L1572.2 442.7 L1572.7 442.7 L1573.2 442.7 L1573.7 442.7 L1574.2 442.7 L1574.7 442.7 L1575.2 442.7 L1575.7 442.7 L1576.2 442.7 L1576.7 442.7 L1577.2 442.7 L1577.7 442.7 L1578.2 442.7 L1578.7 442.7 L1579.2 442.7 L1579.7 442.7 L1580.2 442.7 L1580.7 442.7 L1581.2 442.7 L1581.7 442.7 L1582.2 442.7 L1582.7 442.7 L1583.2 442.7 L1583.7 442.7 L1584.2 442.7 L1584.7 442.7 L1585.2 442.7 L1585.7 442.7 L1586.2 442.7 L1586.7 442.7 L1587.2 442.7 L1587.7 442.7 L1588.2 442.7 L1588.7 442.7 L1589.2 442.7 L1589.7 442.7 L1590.2 442.7 L1590.7 442.7 L1591.2 442.7 L1591.7 442.7 L1592.2 442.7 L1592.7 442.7 L1593.2 442.7 L1593.7 442.7 L1594.2 442.7 L1594.7 442.7 L1595.2 442.7 L1595.7 442.7 L1596.2 442.7 L1596.7 442.7 L1597.2 442.7 L1597.7 442.7 L1598.2 442.7 L1598.7 442.7 L1599.2 442.7 L1599.7 442.7 L1600.2 442.7 L1600.7 442.7 L1601.2 442.7 L1601.7 442.7 L1602.2 442.7 L1602.7 442.7 L1603.2 442.7 L1603.7 442.7 L1604.2 442.7 L1604.7 442.7 L1605.2 442.7 L1605.7 442.7 L1606.2 442.7 L1606.7 442.7 L1607.2 442.7 L1607.7 442.7 L1608.2 442.7 L1608.7 442.7 L1609.2 442.7 L1609.7 442.7 L1610.2 442.7 L1610.7 442.7 L1611.2 442.7 L1611.7 442.7 L1612.2 442.7 L1612.7 442.7 L1613.2 442.7 L1613.7 442.7 L1614.2 442.7 L1614.7 442.7 L1615.2 442.7 L1615.7 442.7 L1616.2 442.7 L1616.7 442.7 L1617.2 442.7 L1617.7 442.7 L1618.2 442.7 L1618.7 442.7 L1619.2 442.7 L1619.7 442.7 L1620.2 442.7 L1620.7 442.7 L1621.2 442.7 L1621.7 442.7 L1622.2 442.7 L1622.7 442.7 L1623.2 442.7 L1623.7 442.7 L1624.2 442.7 L1624.7 442.7 L1625.2 442.7 L1625.7 442.7 L1626.2 442.7 L1626.7 442.7 L1627.2 442.7 L1627.7 442.7 L1628.2 442.7 L1628.7 442.7 L1629.2 442.7 L1629.7 442.7 L1630.2 442.7 L1630.7 442.7 L1631.2 442.7 L1631.7 442.7 L1632.2 442.7 L1632.7 442.7 L1633.2 442.7 L1633.7 442.7 L1634.2 442.7 L1634.7 442.7 L1635.2 442.7 L1635.7 442.7 L1636.2 442.7 L1636.7 442.7 L1637.2 442.7 L1637.7 442.7 L1638.2 442.7 L1638.7 442.7 L1639.2 442.7 L1639.7 442.7 L1640.2 442.7 L1640.7 442.7 L1641.2 442.7 L1641.7 442.7 L1642.2 442.7 L1642.7 442.7 L1643.2 442.7 L1643.7 442.7 L1644.2 442.7 L1644.7 442.7 L1645.2 442.7 L1645.7 442.7 L1646.2 442.7 L1646.7 442.7 L1647.2 442.7 L1647.7 442.7 L1648.2 442.7 L1648.7 442.7 L1649.2 442.7 L1649.7 442.7 L1650.2 442.7 L1650.7 442.7 L1651.2 442.7 L1651.7 442.7 L1652.2 442.7 L1652.7 442.7 L1653.2 442.7 L1653.7 442.7 L1654.2 442.7 L1654.7 442.7 L1655.2 442.7 L1655.7 442.7 L1656.2 442.7 L1656.7 442.7 L1657.2 442.7 L1657.7 442.7 L1658.2 442.7 L1658.7 442.7 L1659.2 442.7 L1659.7 442.7 L1660.2 442.7 L1660.7 442.7 L1661.2 442.7 L1661.7 442.7 L1662.2 442.7 L1662.7 442.7 L1663.2 442.7 L1663.7 442.7 L1664.2 442.7 L1664.7 442.7 L1665.2 442.7 L1665.7 442.7 L1666.2 442.7 L1666.7 442.7 L1667.2 442.7 L1667.7 442.7 L1668.2 442.7 L1668.7 442.7 L1669.2 442.7 L1669.7 442.7 L1670.2 442.7 L1670.7 442.7 L1671.2 442.7 L1671.7 442.7 L1672.2 442.7 L1672.7 442.7 L1673.2 442.7 L1673.7 442.7 L1674.2 442.7 L1674.7 442.7 L1675.2 442.7 L1675.7 442.7 L1676.2 442.7 L1676.7 442.7 L1677.2 442.7 L1677.7 442.7 L1678.2 442.7 L1678.7 442.7 L1679.2 442.7 L1679.7 442.7 L1680.2 442.7 L1680.7 442.7 L1681.2 442.7 L1681.7 442.7 L1682.2 442.7 L1682.7 442.7 L1683.2 442.7 L1683.7 442.7 L1684.2 442.7 L1684.7 442.7 L1685.2 442.7 L1685.7 442.7 L1686.2 442.7 L1686.7 442.7 L1687.2 442.7 L1687.7 442.7 L1688.2 442.7 L1688.7 442.7 L1689.2 442.7 L1689.7 442.7 L1690.2 442.7 L1690.7 442.7 L1691.2 442.7 L1691.7 442.7 L1692.2 442.7 L1692.7 442.7 L1693.2 442.7 L1693.7 442.7 L1694.2 442.7 L1694.7 442.7 L1695.2 442.7 L1695.7 442.7 L1696.2 442.7 L1696.7 442.7 L1697.2 442.7 L1697.7 442.7 L1698.2 442.7 L1698.7 442.7 L1699.2 442.7 L1699.7 442.7 L1700.2 442.7 L1700.7 442.7 L1701.2 442.7 L1701.7 442.7 L1702.2 442.7 L1702.7 442.7 L1703.2 442.7 L1703.7 442.7 L1704.2 442.7 L1704.7 442.7 L1705.2 442.7 L1705.7 442.7 L1706.2 442.7 L1706.7 442.7 L1707.2 442.7 L1707.7 442.7 L1708.2 442.7 L1708.7 442.7 L1709.2 442.7 L1709.7 442.7 L1710.2 442.7 L1710.7 442.7 L1711.2 442.7 L1711.7 442.7 L1712.2 442.7 L1712.7 442.7 L1713.2 442.7 L1713.7 442.7 L1714.2 442.7 L1714.7 442.7 L1715.2 442.7 L1715.7 442.7 L1716.2 442.7 L1716.7 442.7 L1717.2 442.7 L1717.7 442.7 L1718.2 442.7 L1718.7 442.7 L1719.2 442.7 L1719.7 442.7 L1720.2 442.7 L1720.7 442.7 L1721.2 442.7 L1721.7 442.7 L1722.2 442.7 L1722.7 442.7 L1723.2 442.7 L1723.7 442.7 L1724.2 442.7 L1724.7 442.7 L1725.2 442.7 L1725.7 442.7 L1726.2 442.7 L1726.7 442.7 L1727.2 442.7 L1727.7 442.7 L1728.2 442.7 L1728.7 442.7 L1729.2 442.7 L1729.7 442.7 L1730.2 442.7 L1730.7 442.7 L1731.2 442.7 L1731.7 442.7 L1732.2 442.7 L1732.7 442.7 L1733.2 442.7 L1733.7 442.7 L1734.2 442.7 L1734.7 442.7 L1735.2 442.7 L1735.7 442.7 L1736.2 442.7 L1736.7 442.7 L1737.2 442.7 L1737.7 442.7 L1738.2 442.7 L1738.7 442.7 L1739.2 442.7 L1739.7 442.7 L1740.2 442.7 L1740.7 442.7 L1741.2 442.7 L1741.7 442.7 L1742.2 442.7 L1742.7 442.7 L1743.2 442.7 L1743.7 442.7 L1744.2 442.7 L1744.7 442.7 L1745.2 442.7 L1745.7 442.7 L1746.2 442.7 L1746.7 442.7 L1747.2 442.7 L1747.7 442.7 L1748.2 442.7 L1748.7 442.7 L1749.2 442.7 L1749.7 442.7 L1750.2 442.7 L1750.7 442.7 L1751.2 442.7 L1751.7 442.7 L1752.2 442.7 L1752.7 442.7 L1753.2 442.6 L1753.7 442.4 L1754.2 442.1 L1754.7 441.8 L1755.2 441.7 L1755.7 441.8 L1756.2 442.1 L1756.7 442.4 L1757.2 442.6 L1757.7 442.7 L1758.2 442.7 L1758.7 442.7 L1759.2 442.7 L1759.7 442.7 L1760.2 442.7 L1760.5 442.7 L1302.7 442.7 Z" fill="#3ecfd8" fill-opacity="0.15" stroke="none"/><path d="M1302.7 442.7 L1303.2 442.7 L1303.7 442.7 L1304.2 442.7 L1304.7 442.7 L1305.2 442.7 L1305.7 442.7 L1306.2 442.7 L1306.7 442.7 L1307.2 442.7 L1307.7 442.7 L1308.2 442.7 L1308.7 442.7 L1309.2 442.7 L1309.7 442.7 L1310.2 442.7 L1310.7 442.7 L1311.2 442.7 L1311.7 442.7 L1312.2 442.7 L1312.7 442.7 L1313.2 442.7 L1313.7 442.7 L1314.2 442.7 L1314.7 442.7 L1315.2 442.7 L1315.7 442.7 L1316.2 442.7 L1316.7 442.7 L1317.2 442.7 L1317.7 442.7 L1318.2 442.7 L1318.7 442.7 L1319.2 442.7 L1319.7 442.7 L1320.2 442.7 L1320.7 442.7 L1321.2 442.7 L1321.7 442.7 L1322.2 442.7 L1322.7 442.7 L1323.2 442.7 L1323.7 442.7 L1324.2 442.7 L1324.7 442.7 L1325.2 442.7 L1325.7 442.7 L1326.2 442.7 L1326.7 442.7 L1327.2 442.7 L1327.7 442.7 L1328.2 442.7 L1328.7 442.7 L1329.2 442.7 L1329.7 442.7 L1330.2 442.7 L1330.7 442.7 L1331.2 442.7 L1331.7 442.7 L1332.2 442.7 L1332.7 442.7 L1333.2 442.7 L1333.7 442.7 L1334.2 442.7 L1334.7 442.7 L1335.2 442.7 L1335.7 442.7 L1336.2 442.6 L1336.7 442.6 L1337.2 442.5 L1337.7 442.3 L1338.2 442.1 L1338.7 441.7 L1339.2 441.2 L1339.7 440.6 L1340.2 439.8 L1340.7 439.0 L1341.2 438.2 L1341.7 437.6 L1342.2 437.1 L1342.7 436.9 L1343.2 437.1 L1343.7 437.5 L1344.2 438.2 L1344.7 438.9 L1345.2 439.7 L1345.7 440.4 L1346.2 440.9 L1346.7 441.3 L1347.2 441.5 L1347.7 441.5 L1348.2 441.4 L1348.7 441.3 L1349.2 441.2 L1349.7 441.2 L1350.2 441.2 L1350.7 441.2 L1351.2 441.4 L1351.7 441.6 L1352.2 441.8 L1352.7 442.0 L1353.2 442.2 L1353.7 442.4 L1354.2 442.5 L1354.7 442.6 L1355.2 442.6 L1355.7 442.7 L1356.2 442.7 L1356.7 442.7 L1357.2 442.7 L1357.7 442.7 L1358.2 442.7 L1358.7 442.7 L1359.2 442.7 L1359.7 442.7 L1360.2 442.7 L1360.7 442.7 L1361.2 442.7 L1361.7 442.7 L1362.2 442.7 L1362.7 442.7 L1363.2 442.7 L1363.7 442.7 L1364.2 442.7 L1364.7 442.7 L1365.2 442.7 L1365.7 442.7 L1366.2 442.7 L1366.7 442.7 L1367.2 442.7 L1367.7 442.7 L1368.2 442.7 L1368.7 442.7 L1369.2 442.7 L1369.7 442.7 L1370.2 442.7 L1370.7 442.7 L1371.2 442.7 L1371.7 442.7 L1372.2 442.7 L1372.7 442.7 L1373.2 442.7 L1373.7 442.7 L1374.2 442.7 L1374.7 442.7 L1375.2 442.7 L1375.7 442.7 L1376.2 442.7 L1376.7 442.7 L1377.2 442.7 L1377.7 442.7 L1378.2 442.7 L1378.7 442.7 L1379.2 442.7 L1379.7 442.7 L1380.2 442.7 L1380.7 442.7 L1381.2 442.7 L1381.7 442.7 L1382.2 442.7 L1382.7 442.7 L1383.2 442.7 L1383.7 442.7 L1384.2 442.7 L1384.7 442.7 L1385.2 442.7 L1385.7 442.7 L1386.2 442.7 L1386.7 442.7 L1387.2 442.7 L1387.7 442.7 L1388.2 442.7 L1388.7 442.7 L1389.2 442.7 L1389.7 442.7 L1390.2 442.7 L1390.7 442.7 L1391.2 442.7 L1391.7 442.7 L1392.2 442.7 L1392.7 442.7 L1393.2 442.7 L1393.7 442.7 L1394.2 442.7 L1394.7 442.7 L1395.2 442.7 L1395.7 442.7 L1396.2 442.7 L1396.7 442.7 L1397.2 442.7 L1397.7 442.7 L1398.2 442.7 L1398.7 442.6 L1399.2 442.4 L1399.7 441.9 L1400.2 441.0 L1400.7 439.7 L1401.2 437.7 L1401.7 435.6 L1402.2 433.7 L1402.7 432.6 L1403.2 432.7 L1403.7 434.0 L1404.2 436.0 L1404.7 438.2 L1405.2 440.0 L1405.7 441.3 L1406.2 442.0 L1406.7 442.4 L1407.2 442.5 L1407.7 442.4 L1408.2 442.0 L1408.7 440.7 L1409.2 438.3 L1409.7 434.1 L1410.2 428.4 L1410.7 422.3 L1411.2 417.7 L1411.7 416.5 L1412.2 419.1 L1412.7 424.4 L1413.2 430.3 L1413.7 435.1 L1414.2 438.0 L1414.7 439.2 L1415.2 439.2 L1415.7 438.7 L1416.2 438.0 L1416.7 437.6 L1417.2 437.6 L1417.7 437.9 L1418.2 438.4 L1418.7 439.0 L1419.2 439.1 L1419.7 438.6 L1420.2 437.0 L1420.7 434.2 L1421.2 430.3 L1421.7 425.9 L1422.2 421.9 L1422.7 419.5 L1423.2 419.2 L1423.7 421.3 L1424.2 425.1 L1424.7 429.7 L1425.2 434.0 L1425.7 437.5 L1426.2 439.9 L1426.7 441.3 L1427.2 442.1 L1427.7 442.5 L1428.2 442.6 L1428.7 442.7 L1429.2 442.7 L1429.7 442.7 L1430.2 442.7 L1430.7 442.7 L1431.2 442.7 L1431.7 442.7 L1432.2 442.7 L1432.7 442.7 L1433.2 442.7 L1433.7 442.7 L1434.2 442.7 L1434.7 442.7 L1435.2 442.7 L1435.7 442.7 L1436.2 442.7 L1436.7 442.7 L1437.2 442.7 L1437.7 442.7 L1438.2 442.7 L1438.7 442.7 L1439.2 442.7 L1439.7 442.7 L1440.2 442.7 L1440.7 442.7 L1441.2 442.7 L1441.7 442.7 L1442.2 442.7 L1442.7 442.7 L1443.2 442.7 L1443.7 442.7 L1444.2 442.7 L1444.7 442.7 L1445.2 442.7 L1445.7 442.7 L1446.2 442.7 L1446.7 442.7 L1447.2 442.7 L1447.7 442.7 L1448.2 442.7 L1448.7 442.7 L1449.2 442.7 L1449.7 442.7 L1450.2 442.7 L1450.7 442.7 L1451.2 442.7 L1451.7 442.7 L1452.2 442.7 L1452.7 442.7 L1453.2 442.7 L1453.7 442.7 L1454.2 442.7 L1454.7 442.7 L1455.2 442.7 L1455.7 442.7 L1456.2 442.7 L1456.7 442.7 L1457.2 442.7 L1457.7 442.7 L1458.2 442.7 L1458.7 442.7 L1459.2 442.7 L1459.7 442.7 L1460.2 442.7 L1460.7 442.7 L1461.2 442.7 L1461.7 442.7 L1462.2 442.7 L1462.7 442.7 L1463.2 442.7 L1463.7 442.7 L1464.2 442.7 L1464.7 442.7 L1465.2 442.7 L1465.7 442.7 L1466.2 442.7 L1466.7 442.7 L1467.2 442.7 L1467.7 442.7 L1468.2 442.7 L1468.7 442.7 L1469.2 442.7 L1469.7 442.7 L1470.2 442.7 L1470.7 442.7 L1471.2 442.7 L1471.7 442.7 L1472.2 442.7 L1472.7 442.7 L1473.2 442.7 L1473.7 442.7 L1474.2 442.7 L1474.7 442.7 L1475.2 442.7 L1475.7 442.7 L1476.2 442.7 L1476.7 442.7 L1477.2 442.7 L1477.7 442.7 L1478.2 442.7 L1478.7 442.7 L1479.2 442.7 L1479.7 442.7 L1480.2 442.7 L1480.7 442.6 L1481.2 442.5 L1481.7 442.4 L1482.2 442.1 L1482.7 441.7 L1483.2 441.1 L1483.7 440.2 L1484.2 439.0 L1484.7 437.5 L1485.2 435.7 L1485.7 434.0 L1486.2 432.3 L1486.7 431.0 L1487.2 430.3 L1487.7 430.2 L1488.2 430.8 L1488.7 432.0 L1489.2 433.6 L1489.7 435.4 L1490.2 437.1 L1490.7 438.7 L1491.2 440.0 L1491.7 440.9 L1492.2 441.6 L1492.7 442.1 L1493.2 442.4 L1493.7 442.5 L1494.2 442.6 L1494.7 442.7 L1495.2 442.7 L1495.7 442.7 L1496.2 442.7 L1496.7 442.7 L1497.2 442.7 L1497.7 442.7 L1498.2 442.7 L1498.7 442.7 L1499.2 442.7 L1499.7 442.7 L1500.2 442.7 L1500.7 442.7 L1501.2 442.7 L1501.7 442.7 L1502.2 442.7 L1502.7 442.7 L1503.2 442.7 L1503.7 442.7 L1504.2 442.7 L1504.7 442.7 L1505.2 442.7 L1505.7 442.7 L1506.2 442.7 L1506.7 442.7 L1507.2 442.7 L1507.7 442.7 L1508.2 442.7 L1508.7 442.7 L1509.2 442.7 L1509.7 442.7 L1510.2 442.7 L1510.7 442.7 L1511.2 442.7 L1511.7 442.7 L1512.2 442.7 L1512.7 442.7 L1513.2 442.7 L1513.7 442.7 L1514.2 442.7 L1514.7 442.7 L1515.2 442.7 L1515.7 442.7 L1516.2 442.7 L1516.7 442.7 L1517.2 442.7 L1517.7 442.7 L1518.2 442.7 L1518.7 442.7 L1519.2 442.7 L1519.7 442.7 L1520.2 442.7 L1520.7 442.7 L1521.2 442.7 L1521.7 442.7 L1522.2 442.7 L1522.7 442.7 L1523.2 442.7 L1523.7 442.7 L1524.2 442.7 L1524.7 442.7 L1525.2 442.7 L1525.7 442.7 L1526.2 442.7 L1526.7 442.7 L1527.2 442.7 L1527.7 442.7 L1528.2 442.7 L1528.7 442.7 L1529.2 442.7 L1529.7 442.7 L1530.2 442.7 L1530.7 442.7 L1531.2 442.7 L1531.7 442.7 L1532.2 442.7 L1532.7 442.7 L1533.2 442.7 L1533.7 442.7 L1534.2 442.7 L1534.7 442.7 L1535.2 442.7 L1535.7 442.7 L1536.2 442.7 L1536.7 442.7 L1537.2 442.6 L1537.7 442.3 L1538.2 441.8 L1538.7 440.9 L1539.2 439.6 L1539.7 438.2 L1540.2 437.0 L1540.7 436.6 L1541.2 437.0 L1541.7 438.2 L1542.2 439.6 L1542.7 440.9 L1543.2 441.8 L1543.7 442.3 L1544.2 442.5 L1544.7 442.6 L1545.2 442.5 L1545.7 442.2 L1546.2 441.8 L1546.7 441.2 L1547.2 440.4 L1547.7 439.5 L1548.2 438.8 L1548.7 438.3 L1549.2 438.3 L1549.7 438.7 L1550.2 439.4 L1550.7 440.2 L1551.2 441.1 L1551.7 441.7 L1552.2 442.1 L1552.7 442.4 L1553.2 442.5 L1553.7 442.5 L1554.2 442.5 L1554.7 442.3 L1555.2 442.1 L1555.7 441.9 L1556.2 441.6 L1556.7 441.3 L1557.2 441.1 L1557.7 440.9 L1558.2 440.9 L1558.7 441.0 L1559.2 441.3 L1559.7 441.5 L1560.2 441.8 L1560.7 442.1 L1561.2 442.3 L1561.7 442.5 L1562.2 442.6 L1562.7 442.6 L1563.2 442.7 L1563.7 442.7 L1564.2 442.7 L1564.7 442.7 L1565.2 442.7 L1565.7 442.7 L1566.2 442.7 L1566.7 442.7 L1567.2 442.7 L1567.7 442.7 L1568.2 442.7 L1568.7 442.7 L1569.2 442.7 L1569.7 442.7 L1570.2 442.7 L1570.7 442.7 L1571.2 442.7 L1571.7 442.7 L1572.2 442.7 L1572.7 442.7 L1573.2 442.7 L1573.7 442.7 L1574.2 442.7 L1574.7 442.7 L1575.2 442.7 L1575.7 442.7 L1576.2 442.7 L1576.7 442.7 L1577.2 442.7 L1577.7 442.7 L1578.2 442.7 L1578.7 442.7 L1579.2 442.7 L1579.7 442.7 L1580.2 442.7 L1580.7 442.7 L1581.2 442.7 L1581.7 442.7 L1582.2 442.7 L1582.7 442.7 L1583.2 442.7 L1583.7 442.7 L1584.2 442.7 L1584.7 442.7 L1585.2 442.7 L1585.7 442.7 L1586.2 442.7 L1586.7 442.7 L1587.2 442.7 L1587.7 442.7 L1588.2 442.7 L1588.7 442.7 L1589.2 442.7 L1589.7 442.7 L1590.2 442.7 L1590.7 442.7 L1591.2 442.7 L1591.7 442.7 L1592.2 442.7 L1592.7 442.7 L1593.2 442.7 L1593.7 442.7 L1594.2 442.7 L1594.7 442.7 L1595.2 442.7 L1595.7 442.7 L1596.2 442.7 L1596.7 442.7 L1597.2 442.7 L1597.7 442.7 L1598.2 442.7 L1598.7 442.7 L1599.2 442.7 L1599.7 442.7 L1600.2 442.7 L1600.7 442.7 L1601.2 442.7 L1601.7 442.7 L1602.2 442.7 L1602.7 442.7 L1603.2 442.7 L1603.7 442.7 L1604.2 442.7 L1604.7 442.7 L1605.2 442.7 L1605.7 442.7 L1606.2 442.7 L1606.7 442.7 L1607.2 442.7 L1607.7 442.7 L1608.2 442.7 L1608.7 442.7 L1609.2 442.7 L1609.7 442.7 L1610.2 442.7 L1610.7 442.7 L1611.2 442.7 L1611.7 442.7 L1612.2 442.7 L1612.7 442.7 L1613.2 442.7 L1613.7 442.7 L1614.2 442.7 L1614.7 442.7 L1615.2 442.7 L1615.7 442.7 L1616.2 442.7 L1616.7 442.7 L1617.2 442.7 L1617.7 442.7 L1618.2 442.7 L1618.7 442.7 L1619.2 442.7 L1619.7 442.7 L1620.2 442.7 L1620.7 442.7 L1621.2 442.7 L1621.7 442.7 L1622.2 442.7 L1622.7 442.7 L1623.2 442.7 L1623.7 442.7 L1624.2 442.7 L1624.7 442.7 L1625.2 442.7 L1625.7 442.7 L1626.2 442.7 L1626.7 442.7 L1627.2 442.7 L1627.7 442.7 L1628.2 442.7 L1628.7 442.7 L1629.2 442.7 L1629.7 442.7 L1630.2 442.7 L1630.7 442.7 L1631.2 442.7 L1631.7 442.7 L1632.2 442.7 L1632.7 442.7 L1633.2 442.7 L1633.7 442.7 L1634.2 442.7 L1634.7 442.7 L1635.2 442.7 L1635.7 442.7 L1636.2 442.7 L1636.7 442.7 L1637.2 442.7 L1637.7 442.7 L1638.2 442.7 L1638.7 442.7 L1639.2 442.7 L1639.7 442.7 L1640.2 442.7 L1640.7 442.7 L1641.2 442.7 L1641.7 442.7 L1642.2 442.7 L1642.7 442.7 L1643.2 442.7 L1643.7 442.7 L1644.2 442.7 L1644.7 442.7 L1645.2 442.7 L1645.7 442.7 L1646.2 442.7 L1646.7 442.7 L1647.2 442.7 L1647.7 442.7 L1648.2 442.7 L1648.7 442.7 L1649.2 442.7 L1649.7 442.7 L1650.2 442.7 L1650.7 442.7 L1651.2 442.7 L1651.7 442.7 L1652.2 442.7 L1652.7 442.7 L1653.2 442.7 L1653.7 442.7 L1654.2 442.7 L1654.7 442.7 L1655.2 442.7 L1655.7 442.7 L1656.2 442.7 L1656.7 442.7 L1657.2 442.7 L1657.7 442.7 L1658.2 442.7 L1658.7 442.7 L1659.2 442.7 L1659.7 442.7 L1660.2 442.7 L1660.7 442.7 L1661.2 442.7 L1661.7 442.7 L1662.2 442.7 L1662.7 442.7 L1663.2 442.7 L1663.7 442.7 L1664.2 442.7 L1664.7 442.7 L1665.2 442.7 L1665.7 442.7 L1666.2 442.7 L1666.7 442.7 L1667.2 442.7 L1667.7 442.7 L1668.2 442.7 L1668.7 442.7 L1669.2 442.7 L1669.7 442.7 L1670.2 442.7 L1670.7 442.7 L1671.2 442.7 L1671.7 442.7 L1672.2 442.7 L1672.7 442.7 L1673.2 442.7 L1673.7 442.7 L1674.2 442.7 L1674.7 442.7 L1675.2 442.7 L1675.7 442.7 L1676.2 442.7 L1676.7 442.7 L1677.2 442.7 L1677.7 442.7 L1678.2 442.7 L1678.7 442.7 L1679.2 442.7 L1679.7 442.7 L1680.2 442.7 L1680.7 442.7 L1681.2 442.7 L1681.7 442.7 L1682.2 442.7 L1682.7 442.7 L1683.2 442.7 L1683.7 442.7 L1684.2 442.7 L1684.7 442.7 L1685.2 442.7 L1685.7 442.7 L1686.2 442.7 L1686.7 442.7 L1687.2 442.7 L1687.7 442.7 L1688.2 442.7 L1688.7 442.7 L1689.2 442.7 L1689.7 442.7 L1690.2 442.7 L1690.7 442.7 L1691.2 442.7 L1691.7 442.7 L1692.2 442.7 L1692.7 442.7 L1693.2 442.7 L1693.7 442.7 L1694.2 442.7 L1694.7 442.7 L1695.2 442.7 L1695.7 442.7 L1696.2 442.7 L1696.7 442.7 L1697.2 442.7 L1697.7 442.7 L1698.2 442.7 L1698.7 442.7 L1699.2 442.7 L1699.7 442.7 L1700.2 442.7 L1700.7 442.7 L1701.2 442.7 L1701.7 442.7 L1702.2 442.7 L1702.7 442.7 L1703.2 442.7 L1703.7 442.7 L1704.2 442.7 L1704.7 442.7 L1705.2 442.7 L1705.7 442.7 L1706.2 442.7 L1706.7 442.7 L1707.2 442.7 L1707.7 442.7 L1708.2 442.7 L1708.7 442.7 L1709.2 442.7 L1709.7 442.7 L1710.2 442.7 L1710.7 442.7 L1711.2 442.7 L1711.7 442.7 L1712.2 442.7 L1712.7 442.7 L1713.2 442.7 L1713.7 442.7 L1714.2 442.7 L1714.7 442.7 L1715.2 442.7 L1715.7 442.7 L1716.2 442.7 L1716.7 442.7 L1717.2 442.7 L1717.7 442.7 L1718.2 442.7 L1718.7 442.7 L1719.2 442.7 L1719.7 442.7 L1720.2 442.7 L1720.7 442.7 L1721.2 442.7 L1721.7 442.7 L1722.2 442.7 L1722.7 442.7 L1723.2 442.7 L1723.7 442.7 L1724.2 442.7 L1724.7 442.7 L1725.2 442.7 L1725.7 442.7 L1726.2 442.7 L1726.7 442.7 L1727.2 442.7 L1727.7 442.7 L1728.2 442.7 L1728.7 442.7 L1729.2 442.7 L1729.7 442.7 L1730.2 442.7 L1730.7 442.7 L1731.2 442.7 L1731.7 442.7 L1732.2 442.7 L1732.7 442.7 L1733.2 442.7 L1733.7 442.7 L1734.2 442.7 L1734.7 442.7 L1735.2 442.7 L1735.7 442.7 L1736.2 442.7 L1736.7 442.7 L1737.2 442.7 L1737.7 442.7 L1738.2 442.7 L1738.7 442.7 L1739.2 442.7 L1739.7 442.7 L1740.2 442.7 L1740.7 442.7 L1741.2 442.7 L1741.7 442.7 L1742.2 442.7 L1742.7 442.7 L1743.2 442.7 L1743.7 442.7 L1744.2 442.7 L1744.7 442.7 L1745.2 442.7 L1745.7 442.7 L1746.2 442.7 L1746.7 442.7 L1747.2 442.7 L1747.7 442.7 L1748.2 442.7 L1748.7 442.7 L1749.2 442.7 L1749.7 442.7 L1750.2 442.7 L1750.7 442.7 L1751.2 442.7 L1751.7 442.7 L1752.2 442.7 L1752.7 442.7 L1753.2 442.6 L1753.7 442.4 L1754.2 442.1 L1754.7 441.8 L1755.2 441.7 L1755.7 441.8 L1756.2 442.1 L1756.7 442.4 L1757.2 442.6 L1757.7 442.7 L1758.2 442.7 L1758.7 442.7 L1759.2 442.7 L1759.7 442.7 L1760.2 442.7" fill="none" stroke="#3ecfd8" stroke-width="1.8" stroke-linejoin="round"/><path d="M1302.7 442.7 L1303.2 442.7 L1303.7 442.7 L1304.2 442.7 L1304.7 442.7 L1305.2 442.7 L1305.7 442.7 L1306.2 442.7 L1306.7 442.7 L1307.2 442.7 L1307.7 442.7 L1308.2 442.7 L1308.7 442.7 L1309.2 442.7 L1309.7 442.7 L1310.2 442.7 L1310.7 442.7 L1311.2 442.7 L1311.7 442.7 L1312.2 442.7 L1312.7 442.7 L1313.2 442.7 L1313.7 442.7 L1314.2 442.7 L1314.7 442.7 L1315.2 442.7 L1315.7 442.7 L1316.2 442.7 L1316.7 442.7 L1317.2 442.7 L1317.7 442.7 L1318.2 442.7 L1318.7 442.7 L1319.2 442.7 L1319.7 442.7 L1320.2 442.7 L1320.7 442.7 L1321.2 442.7 L1321.7 442.7 L1322.2 442.7 L1322.7 442.7 L1323.2 442.7 L1323.7 442.7 L1324.2 442.7 L1324.7 442.7 L1325.2 442.7 L1325.7 442.7 L1326.2 442.7 L1326.7 442.7 L1327.2 442.7 L1327.7 442.7 L1328.2 442.7 L1328.7 442.7 L1329.2 442.6 L1329.7 442.3 L1330.2 441.6 L1330.7 440.1 L1331.2 437.2 L1331.7 432.3 L1332.2 425.4 L1332.7 417.2 L1333.2 409.5 L1333.7 404.6 L1334.2 404.1 L1334.7 408.2 L1335.2 415.5 L1335.7 423.8 L1336.2 431.1 L1336.7 436.4 L1337.2 439.7 L1337.7 441.3 L1338.2 442.0 L1338.7 442.0 L1339.2 441.5 L1339.7 440.3 L1340.2 438.6 L1340.7 436.1 L1341.2 433.2 L1341.7 430.4 L1342.2 428.4 L1342.7 427.6 L1343.2 428.3 L1343.7 430.3 L1344.2 433.0 L1344.7 435.7 L1345.2 437.9 L1345.7 439.2 L1346.2 439.7 L1346.7 439.6 L1347.2 438.9 L1347.7 438.0 L1348.2 437.0 L1348.7 436.1 L1349.2 435.5 L1349.7 435.3 L1350.2 435.2 L1350.7 435.4 L1351.2 435.7 L1351.7 436.2 L1352.2 436.8 L1352.7 437.6 L1353.2 438.6 L1353.7 439.7 L1354.2 440.6 L1354.7 441.0 L1355.2 440.8 L1355.7 439.6 L1356.2 437.7 L1356.7 435.8 L1357.2 435.0 L1357.7 435.8 L1358.2 437.7 L1358.7 439.7 L1359.2 441.1 L1359.7 441.8 L1360.2 442.0 L1360.7 442.0 L1361.2 441.8 L1361.7 441.6 L1362.2 441.5 L1362.7 441.4 L1363.2 441.4 L1363.7 441.5 L1364.2 441.6 L1364.7 441.8 L1365.2 442.0 L1365.7 442.1 L1366.2 442.3 L1366.7 442.4 L1367.2 442.5 L1367.7 442.6 L1368.2 442.6 L1368.7 442.7 L1369.2 442.7 L1369.7 442.7 L1370.2 442.7 L1370.7 442.7 L1371.2 442.7 L1371.7 442.7 L1372.2 442.7 L1372.7 442.7 L1373.2 442.7 L1373.7 442.7 L1374.2 442.7 L1374.7 442.7 L1375.2 442.7 L1375.7 442.7 L1376.2 442.7 L1376.7 442.7 L1377.2 442.7 L1377.7 442.7 L1378.2 442.7 L1378.7 442.7 L1379.2 442.7 L1379.7 442.7 L1380.2 442.7 L1380.7 442.7 L1381.2 442.7 L1381.7 442.7 L1382.2 442.7 L1382.7 442.7 L1383.2 442.7 L1383.7 442.7 L1384.2 442.7 L1384.7 442.7 L1385.2 442.7 L1385.7 442.7 L1386.2 442.7 L1386.7 442.7 L1387.2 442.7 L1387.7 442.7 L1388.2 442.7 L1388.7 442.7 L1389.2 442.7 L1389.7 442.7 L1390.2 442.7 L1390.7 442.7 L1391.2 442.7 L1391.7 442.7 L1392.2 442.7 L1392.7 442.7 L1393.2 442.7 L1393.7 442.7 L1394.2 442.7 L1394.7 442.7 L1395.2 442.7 L1395.7 442.7 L1396.2 442.7 L1396.7 442.7 L1397.2 442.7 L1397.7 442.7 L1398.2 442.6 L1398.7 442.5 L1399.2 442.2 L1399.7 441.4 L1400.2 440.0 L1400.7 437.7 L1401.2 434.6 L1401.7 431.1 L1402.2 428.0 L1402.7 426.3 L1403.2 426.5 L1403.7 428.5 L1404.2 431.8 L1404.7 435.3 L1405.2 438.3 L1405.7 440.4 L1406.2 441.6 L1406.7 442.2 L1407.2 442.4 L1407.7 442.3 L1408.2 441.3 L1408.7 438.6 L1409.2 432.4 L1409.7 421.1 L1410.2 404.4 L1410.7 385.7 L1411.2 371.3 L1411.7 367.4 L1412.2 375.7 L1412.7 392.2 L1413.2 410.1 L1413.7 423.8 L1414.2 431.6 L1414.7 434.7 L1415.2 435.0 L1415.7 434.4 L1416.2 433.8 L1416.7 433.8 L1417.2 434.4 L1417.7 435.5 L1418.2 436.8 L1418.7 437.9 L1419.2 438.0 L1419.7 436.2 L1420.2 431.5 L1420.7 422.9 L1421.2 410.3 L1421.7 395.3 L1422.2 381.1 L1422.7 372.1 L1423.2 371.2 L1423.7 378.8 L1424.2 392.3 L1424.7 407.7 L1425.2 421.2 L1425.7 431.0 L1426.2 437.1 L1426.7 440.3 L1427.2 441.8 L1427.7 442.4 L1428.2 442.6 L1428.7 442.7 L1429.2 442.7 L1429.7 442.7 L1430.2 442.7 L1430.7 442.7 L1431.2 442.7 L1431.7 442.7 L1432.2 442.7 L1432.7 442.7 L1433.2 442.7 L1433.7 442.7 L1434.2 442.7 L1434.7 442.7 L1435.2 442.7 L1435.7 442.7 L1436.2 442.7 L1436.7 442.7 L1437.2 442.7 L1437.7 442.7 L1438.2 442.7 L1438.7 442.7 L1439.2 442.7 L1439.7 442.7 L1440.2 442.7 L1440.7 442.7 L1441.2 442.7 L1441.7 442.7 L1442.2 442.7 L1442.7 442.7 L1443.2 442.7 L1443.7 442.7 L1444.2 442.7 L1444.7 442.7 L1445.2 442.7 L1445.7 442.7 L1446.2 442.7 L1446.7 442.7 L1447.2 442.7 L1447.7 442.7 L1448.2 442.7 L1448.7 442.7 L1449.2 442.7 L1449.7 442.7 L1450.2 442.7 L1450.7 442.7 L1451.2 442.7 L1451.7 442.7 L1452.2 442.7 L1452.7 442.7 L1453.2 442.7 L1453.7 442.7 L1454.2 442.7 L1454.7 442.7 L1455.2 442.7 L1455.7 442.7 L1456.2 442.7 L1456.7 442.7 L1457.2 442.7 L1457.7 442.7 L1458.2 442.7 L1458.7 442.7 L1459.2 442.7 L1459.7 442.7 L1460.2 442.7 L1460.7 442.7 L1461.2 442.7 L1461.7 442.7 L1462.2 442.7 L1462.7 442.7 L1463.2 442.7 L1463.7 442.7 L1464.2 442.7 L1464.7 442.7 L1465.2 442.7 L1465.7 442.7 L1466.2 442.6 L1466.7 442.5 L1467.2 442.1 L1467.7 441.4 L1468.2 440.4 L1468.7 439.6 L1469.2 439.6 L1469.7 440.2 L1470.2 441.2 L1470.7 442.0 L1471.2 442.4 L1471.7 442.6 L1472.2 442.6 L1472.7 442.5 L1473.2 442.1 L1473.7 441.4 L1474.2 440.5 L1474.7 439.8 L1475.2 439.7 L1475.7 440.3 L1476.2 441.2 L1476.7 442.0 L1477.2 442.4 L1477.7 442.4 L1478.2 442.1 L1478.7 441.3 L1479.2 440.2 L1479.7 438.9 L1480.2 438.0 L1480.7 437.9 L1481.2 438.5 L1481.7 439.4 L1482.2 439.7 L1482.7 438.6 L1483.2 435.4 L1483.7 429.9 L1484.2 422.5 L1484.7 414.6 L1485.2 408.3 L1485.7 405.4 L1486.2 406.3 L1486.7 409.9 L1487.2 414.0 L1487.7 417.2 L1488.2 418.8 L1488.7 419.4 L1489.2 420.0 L1489.7 421.4 L1490.2 423.9 L1490.7 427.1 L1491.2 430.7 L1491.7 434.1 L1492.2 437.0 L1492.7 439.2 L1493.2 440.7 L1493.7 441.6 L1494.2 442.2 L1494.7 442.5 L1495.2 442.6 L1495.7 442.7 L1496.2 442.7 L1496.7 442.7 L1497.2 442.7 L1497.7 442.7 L1498.2 442.7 L1498.7 442.7 L1499.2 442.7 L1499.7 442.7 L1500.2 442.7 L1500.7 442.7 L1501.2 442.7 L1501.7 442.7 L1502.2 442.7 L1502.7 442.7 L1503.2 442.7 L1503.7 442.7 L1504.2 442.7 L1504.7 442.7 L1505.2 442.7 L1505.7 442.7 L1506.2 442.7 L1506.7 442.7 L1507.2 442.7 L1507.7 442.7 L1508.2 442.7 L1508.7 442.7 L1509.2 442.7 L1509.7 442.7 L1510.2 442.7 L1510.7 442.7 L1511.2 442.7 L1511.7 442.7 L1512.2 442.7 L1512.7 442.7 L1513.2 442.7 L1513.7 442.7 L1514.2 442.7 L1514.7 442.7 L1515.2 442.7 L1515.7 442.7 L1516.2 442.7 L1516.7 442.7 L1517.2 442.7 L1517.7 442.7 L1518.2 442.7 L1518.7 442.7 L1519.2 442.7 L1519.7 442.7 L1520.2 442.7 L1520.7 442.7 L1521.2 442.7 L1521.7 442.7 L1522.2 442.7 L1522.7 442.7 L1523.2 442.7 L1523.7 442.7 L1524.2 442.7 L1524.7 442.7 L1525.2 442.7 L1525.7 442.7 L1526.2 442.7 L1526.7 442.7 L1527.2 442.7 L1527.7 442.7 L1528.2 442.7 L1528.7 442.7 L1529.2 442.7 L1529.7 442.7 L1530.2 442.7 L1530.7 442.7 L1531.2 442.7 L1531.7 442.7 L1532.2 442.7 L1532.7 442.7 L1533.2 442.7 L1533.7 442.7 L1534.2 442.7 L1534.7 442.7 L1535.2 442.7 L1535.7 442.7 L1536.2 442.7 L1536.7 442.6 L1537.2 442.4 L1537.7 441.7 L1538.2 440.5 L1538.7 438.2 L1539.2 435.0 L1539.7 431.4 L1540.2 428.5 L1540.7 427.4 L1541.2 428.5 L1541.7 431.4 L1542.2 435.0 L1542.7 438.2 L1543.2 440.5 L1543.7 441.7 L1544.2 442.1 L1544.7 441.7 L1545.2 440.1 L1545.7 435.7 L1546.2 426.5 L1546.7 409.9 L1547.2 384.8 L1547.7 353.7 L1548.2 323.7 L1548.7 304.1 L1549.2 302.2 L1549.7 318.7 L1550.2 347.4 L1550.7 378.9 L1551.2 405.5 L1551.7 423.8 L1552.2 434.3 L1552.7 439.4 L1553.2 441.5 L1553.7 442.1 L1554.2 442.0 L1554.7 441.7 L1555.2 441.2 L1555.7 440.5 L1556.2 439.7 L1556.7 438.9 L1557.2 438.3 L1557.7 437.9 L1558.2 437.9 L1558.7 438.2 L1559.2 438.8 L1559.7 439.5 L1560.2 440.3 L1560.7 441.0 L1561.2 441.6 L1561.7 442.1 L1562.2 442.3 L1562.7 442.5 L1563.2 442.6 L1563.7 442.7 L1564.2 442.7 L1564.7 442.7 L1565.2 442.7 L1565.7 442.7 L1566.2 442.7 L1566.7 442.7 L1567.2 442.7 L1567.7 442.7 L1568.2 442.7 L1568.7 442.7 L1569.2 442.7 L1569.7 442.7 L1570.2 442.7 L1570.7 442.7 L1571.2 442.7 L1571.7 442.7 L1572.2 442.7 L1572.7 442.7 L1573.2 442.7 L1573.7 442.7 L1574.2 442.7 L1574.7 442.7 L1575.2 442.7 L1575.7 442.7 L1576.2 442.7 L1576.7 442.7 L1577.2 442.7 L1577.7 442.7 L1578.2 442.6 L1578.7 442.6 L1579.2 442.5 L1579.7 442.5 L1580.2 442.4 L1580.7 442.3 L1581.2 442.2 L1581.7 442.1 L1582.2 442.0 L1582.7 441.9 L1583.2 441.9 L1583.7 442.0 L1584.2 442.0 L1584.7 442.1 L1585.2 442.3 L1585.7 442.4 L1586.2 442.5 L1586.7 442.5 L1587.2 442.6 L1587.7 442.6 L1588.2 442.7 L1588.7 442.7 L1589.2 442.7 L1589.7 442.7 L1590.2 442.7 L1590.7 442.7 L1591.2 442.7 L1591.7 442.7 L1592.2 442.7 L1592.7 442.7 L1593.2 442.7 L1593.7 442.7 L1594.2 442.7 L1594.7 442.7 L1595.2 442.7 L1595.7 442.7 L1596.2 442.7 L1596.7 442.7 L1597.2 442.7 L1597.7 442.7 L1598.2 442.7 L1598.7 442.7 L1599.2 442.7 L1599.7 442.7 L1600.2 442.7 L1600.7 442.7 L1601.2 442.7 L1601.7 442.7 L1602.2 442.7 L1602.7 442.7 L1603.2 442.7 L1603.7 442.7 L1604.2 442.7 L1604.7 442.7 L1605.2 442.7 L1605.7 442.7 L1606.2 442.7 L1606.7 442.7 L1607.2 442.7 L1607.7 442.7 L1608.2 442.7 L1608.7 442.7 L1609.2 442.7 L1609.7 442.7 L1610.2 442.7 L1610.7 442.7 L1611.2 442.7 L1611.7 442.7 L1612.2 442.7 L1612.7 442.7 L1613.2 442.7 L1613.7 442.7 L1614.2 442.7 L1614.7 442.7 L1615.2 442.7 L1615.7 442.7 L1616.2 442.7 L1616.7 442.7 L1617.2 442.7 L1617.7 442.7 L1618.2 442.7 L1618.7 442.7 L1619.2 442.7 L1619.7 442.7 L1620.2 442.7 L1620.7 442.7 L1621.2 442.7 L1621.7 442.7 L1622.2 442.7 L1622.7 442.7 L1623.2 442.7 L1623.7 442.7 L1624.2 442.7 L1624.7 442.7 L1625.2 442.7 L1625.7 442.7 L1626.2 442.7 L1626.7 442.7 L1627.2 442.7 L1627.7 442.7 L1628.2 442.7 L1628.7 442.7 L1629.2 442.7 L1629.7 442.7 L1630.2 442.7 L1630.7 442.7 L1631.2 442.7 L1631.7 442.7 L1632.2 442.7 L1632.7 442.7 L1633.2 442.7 L1633.7 442.7 L1634.2 442.7 L1634.7 442.7 L1635.2 442.7 L1635.7 442.7 L1636.2 442.7 L1636.7 442.7 L1637.2 442.7 L1637.7 442.7 L1638.2 442.7 L1638.7 442.7 L1639.2 442.7 L1639.7 442.7 L1640.2 442.7 L1640.7 442.7 L1641.2 442.7 L1641.7 442.7 L1642.2 442.7 L1642.7 442.7 L1643.2 442.7 L1643.7 442.7 L1644.2 442.7 L1644.7 442.7 L1645.2 442.7 L1645.7 442.7 L1646.2 442.7 L1646.7 442.7 L1647.2 442.7 L1647.7 442.7 L1648.2 442.6 L1648.7 442.5 L1649.2 442.4 L1649.7 442.3 L1650.2 442.2 L1650.7 442.0 L1651.2 441.9 L1651.7 441.8 L1652.2 441.8 L1652.7 441.9 L1653.2 442.0 L1653.7 442.1 L1654.2 442.3 L1654.7 442.4 L1655.2 442.5 L1655.7 442.6 L1656.2 442.6 L1656.7 442.7 L1657.2 442.7 L1657.7 442.7 L1658.2 442.7 L1658.7 442.7 L1659.2 442.7 L1659.7 442.7 L1660.2 442.7 L1660.7 442.7 L1661.2 442.7 L1661.7 442.7 L1662.2 442.7 L1662.7 442.7 L1663.2 442.7 L1663.7 442.7 L1664.2 442.7 L1664.7 442.7 L1665.2 442.7 L1665.7 442.7 L1666.2 442.7 L1666.7 442.7 L1667.2 442.7 L1667.7 442.7 L1668.2 442.7 L1668.7 442.7 L1669.2 442.7 L1669.7 442.7 L1670.2 442.7 L1670.7 442.7 L1671.2 442.7 L1671.7 442.7 L1672.2 442.7 L1672.7 442.7 L1673.2 442.7 L1673.7 442.7 L1674.2 442.7 L1674.7 442.7 L1675.2 442.7 L1675.7 442.7 L1676.2 442.7 L1676.7 442.7 L1677.2 442.7 L1677.7 442.7 L1678.2 442.7 L1678.7 442.7 L1679.2 442.7 L1679.7 442.7 L1680.2 442.7 L1680.7 442.7 L1681.2 442.7 L1681.7 442.7 L1682.2 442.7 L1682.7 442.7 L1683.2 442.7 L1683.7 442.7 L1684.2 442.7 L1684.7 442.7 L1685.2 442.7 L1685.7 442.7 L1686.2 442.7 L1686.7 442.7 L1687.2 442.7 L1687.7 442.7 L1688.2 442.7 L1688.7 442.7 L1689.2 442.7 L1689.7 442.7 L1690.2 442.7 L1690.7 442.7 L1691.2 442.7 L1691.7 442.7 L1692.2 442.7 L1692.7 442.7 L1693.2 442.7 L1693.7 442.7 L1694.2 442.7 L1694.7 442.7 L1695.2 442.7 L1695.7 442.7 L1696.2 442.7 L1696.7 442.7 L1697.2 442.7 L1697.7 442.7 L1698.2 442.7 L1698.7 442.7 L1699.2 442.7 L1699.7 442.7 L1700.2 442.7 L1700.7 442.7 L1701.2 442.7 L1701.7 442.7 L1702.2 442.7 L1702.7 442.7 L1703.2 442.7 L1703.7 442.7 L1704.2 442.7 L1704.7 442.7 L1705.2 442.7 L1705.7 442.7 L1706.2 442.7 L1706.7 442.7 L1707.2 442.7 L1707.7 442.7 L1708.2 442.7 L1708.7 442.7 L1709.2 442.7 L1709.7 442.7 L1710.2 442.7 L1710.7 442.7 L1711.2 442.7 L1711.7 442.7 L1712.2 442.7 L1712.7 442.7 L1713.2 442.7 L1713.7 442.7 L1714.2 442.7 L1714.7 442.7 L1715.2 442.7 L1715.7 442.7 L1716.2 442.7 L1716.7 442.7 L1717.2 442.6 L1717.7 442.5 L1718.2 442.4 L1718.7 442.1 L1719.2 441.9 L1719.7 441.6 L1720.2 441.5 L1720.7 441.4 L1721.2 441.6 L1721.7 441.8 L1722.2 442.1 L1722.7 442.3 L1723.2 442.5 L1723.7 442.6 L1724.2 442.7 L1724.7 442.7 L1725.2 442.7 L1725.7 442.7 L1726.2 442.7 L1726.7 442.7 L1727.2 442.7 L1727.7 442.7 L1728.2 442.7 L1728.7 442.7 L1729.2 442.7 L1729.7 442.7 L1730.2 442.7 L1730.7 442.7 L1731.2 442.7 L1731.7 442.7 L1732.2 442.7 L1732.7 442.7 L1733.2 442.7 L1733.7 442.7 L1734.2 442.7 L1734.7 442.7 L1735.2 442.7 L1735.7 442.7 L1736.2 442.7 L1736.7 442.7 L1737.2 442.7 L1737.7 442.7 L1738.2 442.7 L1738.7 442.7 L1739.2 442.7 L1739.7 442.7 L1740.2 442.7 L1740.7 442.7 L1741.2 442.5 L1741.7 442.2 L1742.2 441.5 L1742.7 440.6 L1743.2 439.8 L1743.7 439.5 L1744.2 440.0 L1744.7 441.0 L1745.2 441.8 L1745.7 442.4 L1746.2 442.6 L1746.7 442.7 L1747.2 442.7 L1747.7 442.7 L1748.2 442.7 L1748.7 442.7 L1749.2 442.7 L1749.7 442.7 L1750.2 442.7 L1750.7 442.7 L1751.2 442.7 L1751.7 442.7 L1752.2 442.5 L1752.7 442.1 L1753.2 440.7 L1753.7 437.9 L1754.2 433.6 L1754.7 429.4 L1755.2 427.6 L1755.7 429.4 L1756.2 433.6 L1756.7 437.9 L1757.2 440.7 L1757.7 442.1 L1758.2 442.5 L1758.7 442.7 L1759.2 442.7 L1759.7 442.7 L1760.2 442.7" fill="none" stroke="#fb9a36" stroke-width="1.9" stroke-linejoin="round"/>
<rect x="1264.5" y="503.5" width="251.0" height="219.5" fill="#09102c" stroke="#17345f" stroke-width="1.25"/><rect x="1263.8" y="502.8" width="9" height="1.4" fill="#31a4ee"/><rect x="1263.8" y="502.8" width="2" height="7" fill="#31a4ee"/><rect x="1507.2" y="502.8" width="9" height="1.4" fill="#31a4ee"/><rect x="1514.2" y="502.8" width="2" height="7" fill="#31a4ee"/><rect x="1263.8" y="722.3" width="6.8" height="1.4" fill="#31a4ee"/><rect x="1263.8" y="717.5" width="2" height="6.2" fill="#31a4ee"/><rect x="1509.4" y="722.3" width="6.8" height="1.4" fill="#31a4ee"/><rect x="1514.2" y="717.5" width="2" height="6.2" fill="#31a4ee"/>
<rect x="1540.5" y="503.5" width="251.0" height="219.5" fill="#09102c" stroke="#17345f" stroke-width="1.25"/><rect x="1539.8" y="502.8" width="9" height="1.4" fill="#31a4ee"/><rect x="1539.8" y="502.8" width="2" height="7" fill="#31a4ee"/><rect x="1783.2" y="502.8" width="9" height="1.4" fill="#31a4ee"/><rect x="1790.2" y="502.8" width="2" height="7" fill="#31a4ee"/><rect x="1539.8" y="722.3" width="6.8" height="1.4" fill="#31a4ee"/><rect x="1539.8" y="717.5" width="2" height="6.2" fill="#31a4ee"/><rect x="1785.4" y="722.3" width="6.8" height="1.4" fill="#31a4ee"/><rect x="1790.2" y="717.5" width="2" height="6.2" fill="#31a4ee"/>
<path d="M1279.4 522.2 L1284.0 526.8 L1279.4 531.4" fill="none" stroke="#2f9be0" stroke-width="1.35" stroke-dasharray="1.3 0.5" opacity="0.7"/><path d="M1285.3 522.2 L1289.9 526.8 L1285.3 531.4" fill="none" stroke="#2f9be0" stroke-width="1.35" stroke-dasharray="1.3 0.5" opacity="1"/><text x="1298.5" y="530" font-size="11" fill="#2c9ee6">访问量增长TOP5</text><text x="1500.5" y="530" font-size="11" fill="#2f9be0" text-anchor="end">单位：MB</text><rect x="1279.5" y="545.5" width="221" height="16.8" fill="#000"/><text x="1283.5" y="558" font-size="10.9" fill="#fff">服务名称</text><text x="1375.3" y="558" font-size="10.9" fill="#fff">今日流量</text><text x="1439.7" y="558" font-size="10.9" fill="#fff">对比昨日</text><text x="1283.5" y="584.8" font-size="11" fill="#f0f0f0">132vnc</text><text x="1375.5" y="584.8" font-size="11" fill="#f0f0f0">124.983</text><path d="M1444.0 575.5 l3.8 4.6 h-2 v4.6 h-3.6 v-4.6 h-2 z" fill="#f5333a"/><text x="1451.0" y="584.8" font-size="11" fill="#f0f0f0">124.983</text><text x="1283.5" y="612.2" font-size="11" fill="#f0f0f0">vnc-132</text><text x="1375.5" y="612.2" font-size="11" fill="#f0f0f0">124.983</text><path d="M1444.0 602.9 l3.8 4.6 h-2 v4.6 h-3.6 v-4.6 h-2 z" fill="#f5333a"/><text x="1451.0" y="612.2" font-size="11" fill="#f0f0f0">124.983</text><text x="1283.5" y="639.6" font-size="11" fill="#f0f0f0">Jira(网页)</text><text x="1375.5" y="639.6" font-size="11" fill="#f0f0f0">30.385</text><path d="M1444.0 630.3 l3.8 4.6 h-2 v4.6 h-3.6 v-4.6 h-2 z" fill="#f5333a"/><text x="1451.0" y="639.6" font-size="11" fill="#f0f0f0">30.385</text><text x="1283.5" y="667.1" font-size="11" fill="#f0f0f0">138-ssh</text><text x="1375.5" y="667.1" font-size="11" fill="#f0f0f0">10.210</text><path d="M1444.0 657.8 l3.8 4.6 h-2 v4.6 h-3.6 v-4.6 h-2 z" fill="#f5333a"/><text x="1451.0" y="667.1" font-size="11" fill="#f0f0f0">9.031</text><text x="1283.5" y="694.5" font-size="11" fill="#f0f0f0">Confluence(网…</text><text x="1375.5" y="694.5" font-size="11" fill="#f0f0f0">8.406</text><path d="M1444.0 685.2 l3.8 4.6 h-2 v4.6 h-3.6 v-4.6 h-2 z" fill="#f5333a"/><text x="1451.0" y="694.5" font-size="11" fill="#f0f0f0">8.406</text><path d="M1555.4 522.2 L1560.0 526.8 L1555.4 531.4" fill="none" stroke="#2f9be0" stroke-width="1.35" stroke-dasharray="1.3 0.5" opacity="0.7"/><path d="M1561.3 522.2 L1565.9 526.8 L1561.3 531.4" fill="none" stroke="#2f9be0" stroke-width="1.35" stroke-dasharray="1.3 0.5" opacity="1"/><text x="1574.5" y="530" font-size="11" fill="#2c9ee6">访问量下降TOP5</text><text x="1776.5" y="530" font-size="11" fill="#2f9be0" text-anchor="end">单位：MB</text><rect x="1555.5" y="545.5" width="221" height="16.8" fill="#000"/><text x="1559.5" y="558" font-size="10.9" fill="#fff">服务名称</text><text x="1651.3" y="558" font-size="10.9" fill="#fff">今日流量</text><text x="1715.7" y="558" font-size="10.9" fill="#fff">对比昨日</text><text x="1559.5" y="584.8" font-size="11" fill="#f0f0f0">138-agent</text><text x="1651.5" y="584.8" font-size="11" fill="#f0f0f0">6.390</text><path d="M1720.0 585.1 l3.8 -4.6 h-2 v-4.6 h-3.6 v4.6 h-2 z" fill="#2d9cf0"/><text x="1727.0" y="584.8" font-size="11" fill="#f0f0f0">1.976</text><text x="1559.5" y="612.2" font-size="11" fill="#f0f0f0">edr-服务</text><text x="1651.5" y="612.2" font-size="11" fill="#f0f0f0">7.408</text><path d="M1720.0 612.5 l3.8 -4.6 h-2 v-4.6 h-3.6 v4.6 h-2 z" fill="#2d9cf0"/><text x="1727.0" y="612.2" font-size="11" fill="#f0f0f0">0.958</text>
</g>
</svg>
</body>
</html>
